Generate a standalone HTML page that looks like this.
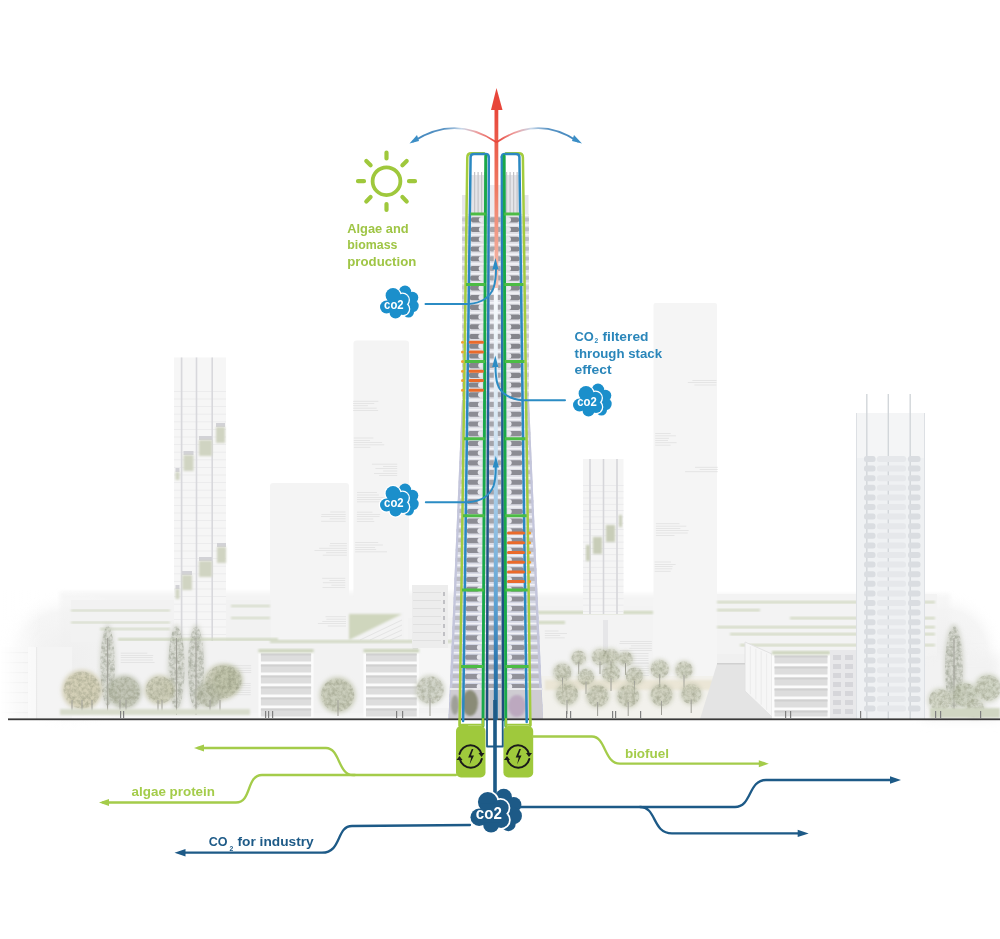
<!DOCTYPE html>
<html><head><meta charset="utf-8">
<style>
html,body{margin:0;padding:0;background:#fff;}
body{width:1000px;height:939px;overflow:hidden;position:relative;font-family:"Liberation Sans",sans-serif;}
svg{position:absolute;left:0;top:0;display:block;filter:blur(0.4px);}
</style></head>
<body>
<svg width="1000" height="939" viewBox="0 0 1000 939" font-family="Liberation Sans, sans-serif">
<defs>
  <filter id="bl1" x="-20%" y="-20%" width="140%" height="140%"><feGaussianBlur stdDeviation="1"/></filter>
  <filter id="bl2" x="-20%" y="-20%" width="140%" height="140%"><feGaussianBlur stdDeviation="2"/></filter>
  <filter id="fol" x="-30%" y="-30%" width="160%" height="160%">
    <feTurbulence type="fractalNoise" baseFrequency="0.28" numOctaves="3" seed="4" result="n"/>
    <feColorMatrix in="n" type="matrix" values="0 0 0 0 0  0 0 0 0 0  0 0 0 0 0  0 0 0 2.2 -0.75" result="na"/>
    <feComposite in="SourceGraphic" in2="na" operator="in" result="t"/>
    <feGaussianBlur in="t" stdDeviation="0.4"/>
  </filter>
  <filter id="bl6" x="-50%" y="-50%" width="200%" height="200%"><feGaussianBlur stdDeviation="6"/></filter>
  <pattern id="floorsL" width="10" height="9.7" patternUnits="userSpaceOnUse">
    <rect width="10" height="9.7" fill="#efeff1"/>
    <rect y="0" width="10" height="1.2" fill="#dcdce0"/>
  </pattern>
  <pattern id="twr" x="0" y="214" width="20" height="9.7" patternUnits="userSpaceOnUse">
    <rect width="20" height="9.7" fill="#d6d6dc"/>
    <rect x="2" y="2.5" width="14" height="5" rx="2" fill="#8a8a90"/>
    <rect x="0" y="0" width="20" height="1.5" fill="#eeeef2"/>
  </pattern>
  <linearGradient id="redg" x1="0" y1="0" x2="0" y2="1">
    <stop offset="0" stop-color="#e8463a"/>
    <stop offset="0.45" stop-color="#ee7a62"/>
    <stop offset="1" stop-color="#f6c4b6"/>
  </linearGradient>
  <linearGradient id="inblue" x1="0" y1="153" x2="0" y2="720" gradientUnits="userSpaceOnUse">
    <stop offset="0" stop-color="#2a88c2"/>
    <stop offset="0.3" stop-color="#2a78b0"/>
    <stop offset="0.5" stop-color="#225a8c"/>
    <stop offset="1" stop-color="#1c4c7a"/>
  </linearGradient>
  <linearGradient id="ctrblue" x1="0" y1="260" x2="0" y2="720" gradientUnits="userSpaceOnUse">
    <stop offset="0" stop-color="#ffffff"/>
    <stop offset="0.35" stop-color="#d8e8f4"/>
    <stop offset="0.55" stop-color="#9cc6e6"/>
    <stop offset="0.75" stop-color="#5aa0d2"/>
    <stop offset="0.87" stop-color="#2e78b0"/>
    <stop offset="1" stop-color="#1e6a9a"/>
  </linearGradient>
  <linearGradient id="curvL" x1="496" y1="0" x2="410" y2="0" gradientUnits="userSpaceOnUse">
    <stop offset="0" stop-color="#e8463a"/><stop offset="0.22" stop-color="#eea0a0"/><stop offset="0.4" stop-color="#c8d8ea"/><stop offset="0.6" stop-color="#5a94c4"/><stop offset="1" stop-color="#3b84bd"/>
  </linearGradient>
  <linearGradient id="curvR" x1="497" y1="0" x2="582" y2="0" gradientUnits="userSpaceOnUse">
    <stop offset="0" stop-color="#e8463a"/><stop offset="0.22" stop-color="#eea0a0"/><stop offset="0.4" stop-color="#c8d8ea"/><stop offset="0.6" stop-color="#5a94c4"/><stop offset="1" stop-color="#3b84bd"/>
  </linearGradient>
  <g id="cloud">
    <!-- back cloud -->
    <g>
      <circle cx="25.5" cy="6.8" r="6.2"/>
      <circle cx="33" cy="12.5" r="5.8"/>
      <circle cx="33" cy="21" r="6.2"/>
      <circle cx="29" cy="27" r="5.5"/>
      <circle cx="25" cy="17" r="7"/>
    </g>
    <!-- front cloud with white outline -->
    <g stroke="#fff" stroke-width="2.6">
      <circle cx="13.5" cy="10.5" r="7.4"/>
      <circle cx="23" cy="15" r="6.2"/>
      <circle cx="23.5" cy="24" r="6"/>
      <circle cx="16" cy="27.5" r="6"/>
      <circle cx="7" cy="22" r="6.5"/>
    </g>
    <g>
      <circle cx="13.5" cy="10.5" r="7.4"/>
      <circle cx="23" cy="15" r="6.2"/>
      <circle cx="23.5" cy="24" r="6"/>
      <circle cx="16" cy="27.5" r="6"/>
      <circle cx="7" cy="22" r="6.5"/>
      <rect x="8" y="12" width="15" height="14"/>
    </g>
  </g>
</defs>

<!-- ============ BACKGROUND BUILDINGS ============ -->
<g id="bg">
<radialGradient id="hazeL" cx="0.5" cy="0.5" r="0.5"><stop offset="0" stop-color="#efefef"/><stop offset="0.7" stop-color="#f3f3f3" stop-opacity="0.8"/><stop offset="1" stop-color="#fff" stop-opacity="0"/></radialGradient>
<linearGradient id="fadeR" x1="0" x2="1"><stop offset="0" stop-color="#fff" stop-opacity="0"/><stop offset="1" stop-color="#fff" stop-opacity="1"/></linearGradient>
<linearGradient id="fadeL" x1="0" x2="1"><stop offset="0" stop-color="#fff" stop-opacity="1"/><stop offset="1" stop-color="#fff" stop-opacity="0"/></linearGradient>
<rect x="60" y="592" width="400" height="127" fill="#f4f4f4" filter="url(#bl2)"/>
<ellipse cx="70" cy="660" rx="80" ry="70" fill="url(#hazeL)"/>
<rect x="530" y="594" width="420" height="125" fill="#f4f4f4" filter="url(#bl2)"/>
<ellipse cx="945" cy="655" rx="60" ry="65" fill="url(#hazeL)"/>
<rect x="653.5" y="303" width="63.5" height="375" rx="2" fill="#f5f5f5"/>
<rect x="692.4" y="380.1" width="24.1" height="0.6" fill="#dadada"/>
<rect x="687.8" y="382.4" width="28.6" height="0.6" fill="#dadada"/>
<rect x="694.4" y="384.7" width="22.0" height="0.6" fill="#dadada"/>
<rect x="655.2" y="433.3" width="15.5" height="0.6" fill="#dadada"/>
<rect x="655.2" y="435.6" width="20.7" height="0.6" fill="#dadada"/>
<rect x="655.2" y="437.9" width="13.7" height="0.6" fill="#dadada"/>
<rect x="655.2" y="440.2" width="12.8" height="0.6" fill="#dadada"/>
<rect x="655.2" y="442.5" width="21.4" height="0.6" fill="#dadada"/>
<rect x="655.2" y="444.8" width="15.4" height="0.6" fill="#dadada"/>
<rect x="695.0" y="466.9" width="22.8" height="0.6" fill="#dadada"/>
<rect x="699.7" y="469.2" width="18.1" height="0.6" fill="#dadada"/>
<rect x="685.1" y="471.5" width="32.7" height="0.6" fill="#dadada"/>
<rect x="655.9" y="523.5" width="23.6" height="0.6" fill="#dadada"/>
<rect x="655.9" y="525.8" width="30.4" height="0.6" fill="#dadada"/>
<rect x="655.9" y="528.1" width="24.4" height="0.6" fill="#dadada"/>
<rect x="655.9" y="530.4" width="32.7" height="0.6" fill="#dadada"/>
<rect x="655.9" y="532.7" width="31.8" height="0.6" fill="#dadada"/>
<rect x="655.9" y="535.0" width="18.6" height="0.6" fill="#dadada"/>
<rect x="654.7" y="561.7" width="16.2" height="0.6" fill="#dadada"/>
<rect x="654.7" y="564.0" width="20.9" height="0.6" fill="#dadada"/>
<rect x="654.7" y="566.3" width="17.9" height="0.6" fill="#dadada"/>
<rect x="654.7" y="568.6" width="17.5" height="0.6" fill="#dadada"/>
<rect x="654.7" y="570.9" width="16.0" height="0.6" fill="#dadada"/>
<rect x="353.5" y="340.5" width="55.5" height="300" rx="3" fill="#f4f4f4"/>
<rect x="353.1" y="400.9" width="25.3" height="0.6" fill="#dadada"/>
<rect x="353.1" y="403.2" width="21.2" height="0.6" fill="#dadada"/>
<rect x="353.1" y="405.5" width="14.8" height="0.6" fill="#dadada"/>
<rect x="353.1" y="407.8" width="23.6" height="0.6" fill="#dadada"/>
<rect x="353.1" y="410.1" width="25.0" height="0.6" fill="#dadada"/>
<rect x="353.8" y="437.7" width="19.6" height="0.6" fill="#dadada"/>
<rect x="353.8" y="440.0" width="16.2" height="0.6" fill="#dadada"/>
<rect x="353.8" y="442.3" width="28.3" height="0.6" fill="#dadada"/>
<rect x="353.8" y="444.6" width="30.4" height="0.6" fill="#dadada"/>
<rect x="353.8" y="446.9" width="16.6" height="0.6" fill="#dadada"/>
<rect x="371.9" y="463.8" width="25.3" height="0.6" fill="#dadada"/>
<rect x="383.1" y="466.1" width="14.1" height="0.6" fill="#dadada"/>
<rect x="375.4" y="468.4" width="21.8" height="0.6" fill="#dadada"/>
<rect x="383.1" y="470.7" width="14.1" height="0.6" fill="#dadada"/>
<rect x="374.0" y="473.0" width="23.2" height="0.6" fill="#dadada"/>
<rect x="379.2" y="475.3" width="18.0" height="0.6" fill="#dadada"/>
<rect x="357.0" y="492.4" width="19.9" height="0.6" fill="#dadada"/>
<rect x="357.0" y="494.7" width="21.9" height="0.6" fill="#dadada"/>
<rect x="357.0" y="497.0" width="30.4" height="0.6" fill="#dadada"/>
<rect x="357.0" y="499.3" width="38.6" height="0.6" fill="#dadada"/>
<rect x="357.0" y="501.6" width="39.0" height="0.6" fill="#dadada"/>
<rect x="356.9" y="511.8" width="15.6" height="0.6" fill="#dadada"/>
<rect x="356.9" y="514.1" width="23.3" height="0.6" fill="#dadada"/>
<rect x="356.9" y="516.4" width="22.6" height="0.6" fill="#dadada"/>
<rect x="356.9" y="518.7" width="16.4" height="0.6" fill="#dadada"/>
<rect x="356.9" y="521.0" width="17.4" height="0.6" fill="#dadada"/>
<rect x="355.2" y="542.4" width="23.0" height="0.6" fill="#dadada"/>
<rect x="355.2" y="544.7" width="27.7" height="0.6" fill="#dadada"/>
<rect x="355.2" y="547.0" width="19.9" height="0.6" fill="#dadada"/>
<rect x="355.2" y="549.3" width="20.9" height="0.6" fill="#dadada"/>
<rect x="355.2" y="551.6" width="31.8" height="0.6" fill="#dadada"/>
<rect x="270" y="483" width="79" height="160" rx="3" fill="#f4f4f4"/>
<rect x="330.3" y="511.7" width="15.3" height="0.6" fill="#dadada"/>
<rect x="321.4" y="514.0" width="24.3" height="0.6" fill="#dadada"/>
<rect x="321.1" y="516.3" width="24.5" height="0.6" fill="#dadada"/>
<rect x="329.7" y="518.6" width="15.9" height="0.6" fill="#dadada"/>
<rect x="321.2" y="520.9" width="24.5" height="0.6" fill="#dadada"/>
<rect x="330.0" y="543.3" width="16.8" height="0.6" fill="#dadada"/>
<rect x="329.4" y="545.6" width="17.5" height="0.6" fill="#dadada"/>
<rect x="319.2" y="547.9" width="27.6" height="0.6" fill="#dadada"/>
<rect x="314.5" y="550.2" width="32.3" height="0.6" fill="#dadada"/>
<rect x="326.2" y="552.5" width="20.6" height="0.6" fill="#dadada"/>
<rect x="322.8" y="554.8" width="24.0" height="0.6" fill="#dadada"/>
<rect x="322.2" y="577.9" width="23.1" height="0.6" fill="#dadada"/>
<rect x="329.4" y="580.2" width="15.8" height="0.6" fill="#dadada"/>
<rect x="322.9" y="582.5" width="22.4" height="0.6" fill="#dadada"/>
<rect x="331.4" y="584.8" width="13.8" height="0.6" fill="#dadada"/>
<rect x="322.6" y="587.1" width="22.7" height="0.6" fill="#dadada"/>
<rect x="325.5" y="616.5" width="20.5" height="0.6" fill="#dadada"/>
<rect x="326.4" y="618.8" width="19.6" height="0.6" fill="#dadada"/>
<rect x="322.3" y="621.1" width="23.7" height="0.6" fill="#dadada"/>
<rect x="317.9" y="623.4" width="28.1" height="0.6" fill="#dadada"/>
<rect x="327.8" y="625.7" width="18.2" height="0.6" fill="#dadada"/>
<rect x="71" y="600" width="200" height="42" fill="#f2f2f2"/>
<rect x="71" y="609.5" width="99" height="2" fill="#d2d9c4" filter="url(#bl1)"/>
<rect x="71" y="621.5" width="99" height="2" fill="#d2d9c4" filter="url(#bl1)"/>
<rect x="100" y="628" width="70" height="2" fill="#d2d9c4" filter="url(#bl1)"/>
<rect x="231" y="605" width="39" height="2" fill="#d2d9c4" filter="url(#bl1)"/>
<rect x="231" y="617" width="39" height="2" fill="#d2d9c4" filter="url(#bl1)"/>
<rect x="537" y="606" width="116" height="74" fill="#f3f3f3"/>
<rect x="537" y="611" width="116" height="3" fill="#d0d8c0" filter="url(#bl1)"/>
<rect x="537" y="621" width="28" height="3" fill="#d0d8c0" filter="url(#bl1)"/>
<rect x="544.8" y="630.7" width="13.7" height="0.6" fill="#dadada"/>
<rect x="544.8" y="633.0" width="22.1" height="0.6" fill="#dadada"/>
<rect x="544.8" y="635.3" width="15.4" height="0.6" fill="#dadada"/>
<rect x="544.8" y="637.6" width="19.9" height="0.6" fill="#dadada"/>
<rect x="619.9" y="641.0" width="31.9" height="0.6" fill="#dadada"/>
<rect x="619.4" y="643.3" width="32.5" height="0.6" fill="#dadada"/>
<rect x="630.9" y="645.6" width="20.9" height="0.6" fill="#dadada"/>
<rect x="629.3" y="647.9" width="22.6" height="0.6" fill="#dadada"/>
<rect x="619.9" y="650.2" width="31.9" height="0.6" fill="#dadada"/>
<rect x="621.4" y="653.4" width="27.1" height="0.6" fill="#dadada"/>
<rect x="615.5" y="655.7" width="33.1" height="0.6" fill="#dadada"/>
<rect x="622.3" y="658.0" width="26.2" height="0.6" fill="#dadada"/>
<rect x="619.3" y="660.3" width="29.2" height="0.6" fill="#dadada"/>
<rect x="625.5" y="662.6" width="23.1" height="0.6" fill="#dadada"/>
<rect x="630.5" y="663.5" width="18.2" height="0.6" fill="#dadada"/>
<rect x="631.1" y="665.8" width="17.7" height="0.6" fill="#dadada"/>
<rect x="630.1" y="668.1" width="18.7" height="0.6" fill="#dadada"/>
<rect x="635.3" y="670.4" width="13.5" height="0.6" fill="#dadada"/>
<rect x="630.5" y="672.7" width="18.3" height="0.6" fill="#dadada"/>
<rect x="630.7" y="675.0" width="18.1" height="0.6" fill="#dadada"/>
<rect x="603" y="620" width="5" height="55" fill="#e6e6e8"/>
<rect x="717" y="594" width="220" height="62" fill="#f3f3f3"/>
<rect x="717" y="601" width="218" height="2.3" fill="#d0d8c0" filter="url(#bl1)"/>
<rect x="717" y="609" width="43" height="2.3" fill="#d0d8c0" filter="url(#bl1)"/>
<rect x="790" y="617" width="145" height="2.3" fill="#d0d8c0" filter="url(#bl1)"/>
<rect x="717" y="626" width="218" height="2.3" fill="#d0d8c0" filter="url(#bl1)"/>
<rect x="730" y="633" width="205" height="2.3" fill="#d0d8c0" filter="url(#bl1)"/>
<rect x="740" y="644" width="195" height="2.3" fill="#d0d8c0" filter="url(#bl1)"/>
<rect x="174" y="357.5" width="52" height="285" fill="#f6f6f6"/>
<rect x="174" y="391.0" width="52" height="0.8" fill="#eaeaec"/>
<rect x="174" y="398.6" width="52" height="0.8" fill="#eaeaec"/>
<rect x="174" y="406.2" width="52" height="0.8" fill="#eaeaec"/>
<rect x="174" y="413.8" width="52" height="0.8" fill="#eaeaec"/>
<rect x="174" y="421.4" width="52" height="0.8" fill="#eaeaec"/>
<rect x="174" y="429.0" width="52" height="0.8" fill="#eaeaec"/>
<rect x="174" y="436.6" width="52" height="0.8" fill="#eaeaec"/>
<rect x="174" y="444.2" width="52" height="0.8" fill="#eaeaec"/>
<rect x="174" y="451.8" width="52" height="0.8" fill="#eaeaec"/>
<rect x="174" y="459.4" width="52" height="0.8" fill="#eaeaec"/>
<rect x="174" y="467.0" width="52" height="0.8" fill="#eaeaec"/>
<rect x="174" y="474.6" width="52" height="0.8" fill="#eaeaec"/>
<rect x="174" y="482.2" width="52" height="0.8" fill="#eaeaec"/>
<rect x="174" y="489.8" width="52" height="0.8" fill="#eaeaec"/>
<rect x="174" y="497.4" width="52" height="0.8" fill="#eaeaec"/>
<rect x="174" y="505.0" width="52" height="0.8" fill="#eaeaec"/>
<rect x="174" y="512.6" width="52" height="0.8" fill="#eaeaec"/>
<rect x="174" y="520.2" width="52" height="0.8" fill="#eaeaec"/>
<rect x="174" y="527.8" width="52" height="0.8" fill="#eaeaec"/>
<rect x="174" y="535.4" width="52" height="0.8" fill="#eaeaec"/>
<rect x="174" y="543.0" width="52" height="0.8" fill="#eaeaec"/>
<rect x="174" y="550.6" width="52" height="0.8" fill="#eaeaec"/>
<rect x="174" y="558.2" width="52" height="0.8" fill="#eaeaec"/>
<rect x="174" y="565.8" width="52" height="0.8" fill="#eaeaec"/>
<rect x="174" y="573.4" width="52" height="0.8" fill="#eaeaec"/>
<rect x="174" y="581.0" width="52" height="0.8" fill="#eaeaec"/>
<rect x="174" y="588.6" width="52" height="0.8" fill="#eaeaec"/>
<rect x="174" y="596.2" width="52" height="0.8" fill="#eaeaec"/>
<rect x="174" y="603.8" width="52" height="0.8" fill="#eaeaec"/>
<rect x="174" y="611.4" width="52" height="0.8" fill="#eaeaec"/>
<rect x="174" y="619.0" width="52" height="0.8" fill="#eaeaec"/>
<rect x="174" y="626.6" width="52" height="0.8" fill="#eaeaec"/>
<rect x="174" y="634.2" width="52" height="0.8" fill="#eaeaec"/>
<rect x="180.79999999999998" y="357.5" width="1.6" height="285" fill="#d8d8dc"/>
<rect x="195.7" y="357.5" width="1.6" height="285" fill="#d8d8dc"/>
<rect x="211.39999999999998" y="357.5" width="1.6" height="285" fill="#d8d8dc"/>
<rect x="183.5" y="451" width="10" height="4" fill="#d2d2d6"/>
<rect x="183.5" y="455" width="10" height="16" fill="#d0d4c2" filter="url(#bl1)"/>
<rect x="199" y="436" width="13" height="4" fill="#d2d2d6"/>
<rect x="199" y="440" width="13" height="16" fill="#d0d4c2" filter="url(#bl1)"/>
<rect x="216" y="423" width="9" height="4" fill="#d2d2d6"/>
<rect x="216" y="427" width="9" height="16" fill="#d0d4c2" filter="url(#bl1)"/>
<rect x="182" y="571" width="10" height="4" fill="#d2d2d6"/>
<rect x="182" y="575" width="10" height="15" fill="#d0d4c2" filter="url(#bl1)"/>
<rect x="199" y="557" width="13" height="4" fill="#d2d2d6"/>
<rect x="199" y="561" width="13" height="16" fill="#d0d4c2" filter="url(#bl1)"/>
<rect x="217" y="543" width="9" height="4" fill="#d2d2d6"/>
<rect x="217" y="547" width="9" height="16" fill="#d0d4c2" filter="url(#bl1)"/>
<rect x="175.5" y="468" width="4" height="4" fill="#d2d2d6"/>
<rect x="175.5" y="472" width="4" height="8" fill="#d0d4c2" filter="url(#bl1)"/>
<rect x="175.5" y="585" width="4" height="4" fill="#d2d2d6"/>
<rect x="175.5" y="589" width="4" height="10" fill="#d0d4c2" filter="url(#bl1)"/>
<rect x="583" y="459" width="40.5" height="155" fill="#f5f5f5"/>
<rect x="583" y="485.0" width="40.5" height="0.8" fill="#e8e8ea"/>
<rect x="583" y="491.3" width="40.5" height="0.8" fill="#e8e8ea"/>
<rect x="583" y="497.6" width="40.5" height="0.8" fill="#e8e8ea"/>
<rect x="583" y="503.9" width="40.5" height="0.8" fill="#e8e8ea"/>
<rect x="583" y="510.2" width="40.5" height="0.8" fill="#e8e8ea"/>
<rect x="583" y="516.5" width="40.5" height="0.8" fill="#e8e8ea"/>
<rect x="583" y="522.8" width="40.5" height="0.8" fill="#e8e8ea"/>
<rect x="583" y="529.1" width="40.5" height="0.8" fill="#e8e8ea"/>
<rect x="583" y="535.4" width="40.5" height="0.8" fill="#e8e8ea"/>
<rect x="583" y="541.7" width="40.5" height="0.8" fill="#e8e8ea"/>
<rect x="583" y="548.0" width="40.5" height="0.8" fill="#e8e8ea"/>
<rect x="583" y="554.3" width="40.5" height="0.8" fill="#e8e8ea"/>
<rect x="583" y="560.6" width="40.5" height="0.8" fill="#e8e8ea"/>
<rect x="583" y="566.9" width="40.5" height="0.8" fill="#e8e8ea"/>
<rect x="583" y="573.2" width="40.5" height="0.8" fill="#e8e8ea"/>
<rect x="583" y="579.5" width="40.5" height="0.8" fill="#e8e8ea"/>
<rect x="583" y="585.8" width="40.5" height="0.8" fill="#e8e8ea"/>
<rect x="583" y="592.1" width="40.5" height="0.8" fill="#e8e8ea"/>
<rect x="583" y="598.4" width="40.5" height="0.8" fill="#e8e8ea"/>
<rect x="583" y="604.7" width="40.5" height="0.8" fill="#e8e8ea"/>
<rect x="583" y="611.0" width="40.5" height="0.8" fill="#e8e8ea"/>
<rect x="589.2" y="459" width="1.6" height="155" fill="#d6d6da"/>
<rect x="602.7" y="459" width="1.6" height="155" fill="#d6d6da"/>
<rect x="616.2" y="459" width="1.6" height="155" fill="#d6d6da"/>
<rect x="586" y="545" width="4" height="16" fill="#c8cdb8" filter="url(#bl1)"/>
<rect x="593" y="537" width="9" height="17" fill="#c8cdb8" filter="url(#bl1)"/>
<rect x="606" y="525" width="9" height="17" fill="#c8cdb8" filter="url(#bl1)"/>
<rect x="619" y="515" width="3" height="12" fill="#c8cdb8" filter="url(#bl1)"/>
<rect x="118" y="638" width="160" height="3" fill="#d2d9c4" filter="url(#bl1)"/>
<rect x="100" y="641" width="360" height="72" fill="#f2f2f2"/>
<rect x="120.7" y="652.8" width="26.6" height="0.6" fill="#dadada"/>
<rect x="120.7" y="655.1" width="32.5" height="0.6" fill="#dadada"/>
<rect x="120.7" y="657.4" width="32.0" height="0.6" fill="#dadada"/>
<rect x="120.7" y="659.7" width="32.0" height="0.6" fill="#dadada"/>
<rect x="120.7" y="662.0" width="33.9" height="0.6" fill="#dadada"/>
<rect x="229.0" y="665.5" width="22.2" height="0.6" fill="#dadada"/>
<rect x="229.0" y="667.8" width="22.2" height="0.6" fill="#dadada"/>
<rect x="232.8" y="670.1" width="18.4" height="0.6" fill="#dadada"/>
<rect x="239.4" y="672.4" width="11.8" height="0.6" fill="#dadada"/>
<rect x="239.2" y="683.0" width="11.5" height="0.6" fill="#dadada"/>
<rect x="229.8" y="685.3" width="20.8" height="0.6" fill="#dadada"/>
<rect x="238.5" y="687.6" width="12.1" height="0.6" fill="#dadada"/>
<rect x="238.4" y="689.9" width="12.3" height="0.6" fill="#dadada"/>
<rect x="229.2" y="692.2" width="21.5" height="0.6" fill="#dadada"/>
<rect x="233.9" y="694.5" width="16.8" height="0.6" fill="#dadada"/>
<rect x="0" y="647" width="72" height="72" fill="#f4f4f4"/>
<rect x="0" y="652" width="28" height="1.2" fill="#e8e8e8"/>
<rect x="0" y="662" width="28" height="1.2" fill="#e8e8e8"/>
<rect x="0" y="672" width="28" height="1.2" fill="#e8e8e8"/>
<rect x="0" y="682" width="28" height="1.2" fill="#e8e8e8"/>
<rect x="0" y="692" width="28" height="1.2" fill="#e8e8e8"/>
<rect x="0" y="702" width="28" height="1.2" fill="#e8e8e8"/>
<rect x="0" y="712" width="28" height="1.2" fill="#e8e8e8"/>
<rect x="28" y="647" width="8" height="72" fill="#f8f8f8"/>
<rect x="36" y="647" width="1.2" height="72" fill="#e8e8e8"/>
<rect x="0" y="590" width="40" height="130" fill="url(#fadeL)"/>
<rect x="408" y="618" width="50" height="30" fill="#f2f2f2"/>
<rect x="349" y="612" width="55" height="28" fill="#f3f3f3"/>
<polygon points="349,614 402,614 349,640" fill="#cfd6bd" filter="url(#bl1)"/>
<line x1="360" y1="640" x2="402" y2="620" stroke="#e4e4e4" stroke-width="1"/>
<line x1="370" y1="640" x2="402" y2="625" stroke="#e4e4e4" stroke-width="1"/>
<line x1="380" y1="640" x2="402" y2="630" stroke="#e4e4e4" stroke-width="1"/>
<line x1="390" y1="640" x2="402" y2="635" stroke="#e4e4e4" stroke-width="1"/>
<rect x="270" y="640" width="190" height="3" fill="#d2d9c4" filter="url(#bl1)"/>
<rect x="412" y="585" width="36" height="90" fill="#ededed"/>
<rect x="413" y="592" width="28" height="0.8" fill="#dcdcdc"/>
<rect x="443" y="592" width="2" height="4" fill="#c0c0c4"/>
<rect x="413" y="600" width="28" height="0.8" fill="#dcdcdc"/>
<rect x="443" y="600" width="2" height="4" fill="#c0c0c4"/>
<rect x="413" y="608" width="28" height="0.8" fill="#dcdcdc"/>
<rect x="443" y="608" width="2" height="4" fill="#c0c0c4"/>
<rect x="413" y="616" width="28" height="0.8" fill="#dcdcdc"/>
<rect x="443" y="616" width="2" height="4" fill="#c0c0c4"/>
<rect x="413" y="624" width="28" height="0.8" fill="#dcdcdc"/>
<rect x="443" y="624" width="2" height="4" fill="#c0c0c4"/>
<rect x="413" y="632" width="28" height="0.8" fill="#dcdcdc"/>
<rect x="443" y="632" width="2" height="4" fill="#c0c0c4"/>
<rect x="413" y="640" width="28" height="0.8" fill="#dcdcdc"/>
<rect x="443" y="640" width="2" height="4" fill="#c0c0c4"/>
<rect x="413" y="648" width="28" height="0.8" fill="#dcdcdc"/>
<rect x="443" y="648" width="2" height="4" fill="#c0c0c4"/>
<rect x="413" y="656" width="28" height="0.8" fill="#dcdcdc"/>
<rect x="443" y="656" width="2" height="4" fill="#c0c0c4"/>
<rect x="413" y="664" width="28" height="0.8" fill="#dcdcdc"/>
<rect x="443" y="664" width="2" height="4" fill="#c0c0c4"/>
<rect x="418" y="648" width="32" height="60" fill="#f6f6f6"/>
<rect x="258.4" y="652" width="55.200000000000045" height="67" fill="#fbfbfb"/>
<rect x="260.9" y="653.5" width="50.200000000000045" height="8.0" fill="#dddddd"/>
<rect x="260.9" y="653.5" width="50.200000000000045" height="2" fill="#d0d0d0"/>
<rect x="260.9" y="664.5" width="50.200000000000045" height="8.0" fill="#dddddd"/>
<rect x="260.9" y="664.5" width="50.200000000000045" height="2" fill="#d0d0d0"/>
<rect x="260.9" y="675.5" width="50.200000000000045" height="8.0" fill="#dddddd"/>
<rect x="260.9" y="675.5" width="50.200000000000045" height="2" fill="#d0d0d0"/>
<rect x="260.9" y="686.5" width="50.200000000000045" height="8.0" fill="#dddddd"/>
<rect x="260.9" y="686.5" width="50.200000000000045" height="2" fill="#d0d0d0"/>
<rect x="260.9" y="697.5" width="50.200000000000045" height="8.0" fill="#dddddd"/>
<rect x="260.9" y="697.5" width="50.200000000000045" height="2" fill="#d0d0d0"/>
<rect x="260.9" y="708.5" width="50.200000000000045" height="8.0" fill="#dddddd"/>
<rect x="260.9" y="708.5" width="50.200000000000045" height="2" fill="#d0d0d0"/>
<rect x="258.4" y="649" width="55.200000000000045" height="3.5" fill="#ccd4bc" filter="url(#bl1)"/>
<rect x="363.5" y="652" width="55.69999999999999" height="67" fill="#fbfbfb"/>
<rect x="366.0" y="653.5" width="50.69999999999999" height="8.0" fill="#dddddd"/>
<rect x="366.0" y="653.5" width="50.69999999999999" height="2" fill="#d0d0d0"/>
<rect x="366.0" y="664.5" width="50.69999999999999" height="8.0" fill="#dddddd"/>
<rect x="366.0" y="664.5" width="50.69999999999999" height="2" fill="#d0d0d0"/>
<rect x="366.0" y="675.5" width="50.69999999999999" height="8.0" fill="#dddddd"/>
<rect x="366.0" y="675.5" width="50.69999999999999" height="2" fill="#d0d0d0"/>
<rect x="366.0" y="686.5" width="50.69999999999999" height="8.0" fill="#dddddd"/>
<rect x="366.0" y="686.5" width="50.69999999999999" height="2" fill="#d0d0d0"/>
<rect x="366.0" y="697.5" width="50.69999999999999" height="8.0" fill="#dddddd"/>
<rect x="366.0" y="697.5" width="50.69999999999999" height="2" fill="#d0d0d0"/>
<rect x="366.0" y="708.5" width="50.69999999999999" height="8.0" fill="#dddddd"/>
<rect x="366.0" y="708.5" width="50.69999999999999" height="2" fill="#d0d0d0"/>
<rect x="363.5" y="649" width="55.69999999999999" height="3.5" fill="#ccd4bc" filter="url(#bl1)"/>
<rect x="717" y="654" width="140" height="65" fill="#f0f0f0"/>
<rect x="924" y="655" width="76" height="64" fill="#f2f2f2" filter="url(#bl6)"/>
<rect x="538" y="676" width="180" height="43" fill="#f2f1ec"/>
<rect x="545" y="680" width="170" height="10" fill="#ebe6d6" filter="url(#bl1)"/>
<polygon points="717,664 745,664 790,719 700,719" fill="#e4e4e4"/>
<polygon points="745,642 772,654 772,717 745,691" fill="#f6f6f6" stroke="#e2e2e2" stroke-width="1"/>
<line x1="750.4" y1="646.4" x2="750.4" y2="694.2" stroke="#e8e8e8" stroke-width="0.8"/>
<line x1="755.8" y1="648.8" x2="755.8" y2="699.4" stroke="#e8e8e8" stroke-width="0.8"/>
<line x1="761.2" y1="651.2" x2="761.2" y2="704.6" stroke="#e8e8e8" stroke-width="0.8"/>
<line x1="766.6" y1="653.6" x2="766.6" y2="709.8" stroke="#e8e8e8" stroke-width="0.8"/>
<rect x="717" y="663" width="28" height="1.5" fill="#d0d0d0"/>
<rect x="772" y="654" width="58" height="65" fill="#fbfbfb"/>
<rect x="774.5" y="655.5" width="53" height="8.0" fill="#dddddd"/>
<rect x="774.5" y="655.5" width="53" height="2" fill="#d0d0d0"/>
<rect x="774.5" y="666.5" width="53" height="8.0" fill="#dddddd"/>
<rect x="774.5" y="666.5" width="53" height="2" fill="#d0d0d0"/>
<rect x="774.5" y="677.5" width="53" height="8.0" fill="#dddddd"/>
<rect x="774.5" y="677.5" width="53" height="2" fill="#d0d0d0"/>
<rect x="774.5" y="688.5" width="53" height="8.0" fill="#dddddd"/>
<rect x="774.5" y="688.5" width="53" height="2" fill="#d0d0d0"/>
<rect x="774.5" y="699.5" width="53" height="8.0" fill="#dddddd"/>
<rect x="774.5" y="699.5" width="53" height="2" fill="#d0d0d0"/>
<rect x="774.5" y="710.5" width="53" height="6.0" fill="#dddddd"/>
<rect x="774.5" y="710.5" width="53" height="2" fill="#d0d0d0"/>
<rect x="772" y="651" width="58" height="3.5" fill="#ccd4bc" filter="url(#bl1)"/>
<rect x="830" y="650" width="27" height="69" fill="#e8e8ea"/>
<rect x="833" y="655" width="8" height="5" fill="#d6d6da"/>
<rect x="845" y="655" width="8" height="5" fill="#d6d6da"/>
<rect x="833" y="664" width="8" height="5" fill="#d6d6da"/>
<rect x="845" y="664" width="8" height="5" fill="#d6d6da"/>
<rect x="833" y="673" width="8" height="5" fill="#d6d6da"/>
<rect x="845" y="673" width="8" height="5" fill="#d6d6da"/>
<rect x="833" y="682" width="8" height="5" fill="#d6d6da"/>
<rect x="845" y="682" width="8" height="5" fill="#d6d6da"/>
<rect x="833" y="691" width="8" height="5" fill="#d6d6da"/>
<rect x="845" y="691" width="8" height="5" fill="#d6d6da"/>
<rect x="833" y="700" width="8" height="5" fill="#d6d6da"/>
<rect x="845" y="700" width="8" height="5" fill="#d6d6da"/>
<rect x="833" y="709" width="8" height="5" fill="#d6d6da"/>
<rect x="845" y="709" width="8" height="5" fill="#d6d6da"/>
<rect x="856" y="413" width="69" height="306" fill="#eff1f3"/>
<rect x="856" y="413" width="69" height="45" fill="#f4f5f6"/>
<rect x="866.0999999999999" y="394" width="1.4" height="325" fill="#d2d6da"/>
<rect x="887.5999999999999" y="394" width="1.4" height="325" fill="#d2d6da"/>
<rect x="909.5" y="394" width="1.4" height="325" fill="#d2d6da"/>
<rect x="864" y="456.0" width="11.5" height="6" rx="2.5" fill="#dadde1"/>
<rect x="877" y="456.0" width="29" height="6" rx="2.5" fill="#e6e8eb"/>
<rect x="908" y="456.0" width="12.5" height="6" rx="2.5" fill="#dadde1"/>
<rect x="864" y="465.6" width="11.5" height="6" rx="2.5" fill="#dadde1"/>
<rect x="877" y="465.6" width="29" height="6" rx="2.5" fill="#e6e8eb"/>
<rect x="908" y="465.6" width="12.5" height="6" rx="2.5" fill="#dadde1"/>
<rect x="864" y="475.2" width="11.5" height="6" rx="2.5" fill="#dadde1"/>
<rect x="877" y="475.2" width="29" height="6" rx="2.5" fill="#e6e8eb"/>
<rect x="908" y="475.2" width="12.5" height="6" rx="2.5" fill="#dadde1"/>
<rect x="864" y="484.8" width="11.5" height="6" rx="2.5" fill="#dadde1"/>
<rect x="877" y="484.8" width="29" height="6" rx="2.5" fill="#e6e8eb"/>
<rect x="908" y="484.8" width="12.5" height="6" rx="2.5" fill="#dadde1"/>
<rect x="864" y="494.4" width="11.5" height="6" rx="2.5" fill="#dadde1"/>
<rect x="877" y="494.4" width="29" height="6" rx="2.5" fill="#e6e8eb"/>
<rect x="908" y="494.4" width="12.5" height="6" rx="2.5" fill="#dadde1"/>
<rect x="864" y="504.0" width="11.5" height="6" rx="2.5" fill="#dadde1"/>
<rect x="877" y="504.0" width="29" height="6" rx="2.5" fill="#e6e8eb"/>
<rect x="908" y="504.0" width="12.5" height="6" rx="2.5" fill="#dadde1"/>
<rect x="864" y="513.6" width="11.5" height="6" rx="2.5" fill="#dadde1"/>
<rect x="877" y="513.6" width="29" height="6" rx="2.5" fill="#e6e8eb"/>
<rect x="908" y="513.6" width="12.5" height="6" rx="2.5" fill="#dadde1"/>
<rect x="864" y="523.2" width="11.5" height="6" rx="2.5" fill="#dadde1"/>
<rect x="877" y="523.2" width="29" height="6" rx="2.5" fill="#e6e8eb"/>
<rect x="908" y="523.2" width="12.5" height="6" rx="2.5" fill="#dadde1"/>
<rect x="864" y="532.8" width="11.5" height="6" rx="2.5" fill="#dadde1"/>
<rect x="877" y="532.8" width="29" height="6" rx="2.5" fill="#e6e8eb"/>
<rect x="908" y="532.8" width="12.5" height="6" rx="2.5" fill="#dadde1"/>
<rect x="864" y="542.4" width="11.5" height="6" rx="2.5" fill="#dadde1"/>
<rect x="877" y="542.4" width="29" height="6" rx="2.5" fill="#e6e8eb"/>
<rect x="908" y="542.4" width="12.5" height="6" rx="2.5" fill="#dadde1"/>
<rect x="864" y="552.0" width="11.5" height="6" rx="2.5" fill="#dadde1"/>
<rect x="877" y="552.0" width="29" height="6" rx="2.5" fill="#e6e8eb"/>
<rect x="908" y="552.0" width="12.5" height="6" rx="2.5" fill="#dadde1"/>
<rect x="864" y="561.6" width="11.5" height="6" rx="2.5" fill="#dadde1"/>
<rect x="877" y="561.6" width="29" height="6" rx="2.5" fill="#e6e8eb"/>
<rect x="908" y="561.6" width="12.5" height="6" rx="2.5" fill="#dadde1"/>
<rect x="864" y="571.2" width="11.5" height="6" rx="2.5" fill="#dadde1"/>
<rect x="877" y="571.2" width="29" height="6" rx="2.5" fill="#e6e8eb"/>
<rect x="908" y="571.2" width="12.5" height="6" rx="2.5" fill="#dadde1"/>
<rect x="864" y="580.8" width="11.5" height="6" rx="2.5" fill="#dadde1"/>
<rect x="877" y="580.8" width="29" height="6" rx="2.5" fill="#e6e8eb"/>
<rect x="908" y="580.8" width="12.5" height="6" rx="2.5" fill="#dadde1"/>
<rect x="864" y="590.4" width="11.5" height="6" rx="2.5" fill="#dadde1"/>
<rect x="877" y="590.4" width="29" height="6" rx="2.5" fill="#e6e8eb"/>
<rect x="908" y="590.4" width="12.5" height="6" rx="2.5" fill="#dadde1"/>
<rect x="864" y="600.0" width="11.5" height="6" rx="2.5" fill="#dadde1"/>
<rect x="877" y="600.0" width="29" height="6" rx="2.5" fill="#e6e8eb"/>
<rect x="908" y="600.0" width="12.5" height="6" rx="2.5" fill="#dadde1"/>
<rect x="864" y="609.6" width="11.5" height="6" rx="2.5" fill="#dadde1"/>
<rect x="877" y="609.6" width="29" height="6" rx="2.5" fill="#e6e8eb"/>
<rect x="908" y="609.6" width="12.5" height="6" rx="2.5" fill="#dadde1"/>
<rect x="864" y="619.2" width="11.5" height="6" rx="2.5" fill="#dadde1"/>
<rect x="877" y="619.2" width="29" height="6" rx="2.5" fill="#e6e8eb"/>
<rect x="908" y="619.2" width="12.5" height="6" rx="2.5" fill="#dadde1"/>
<rect x="864" y="628.8" width="11.5" height="6" rx="2.5" fill="#dadde1"/>
<rect x="877" y="628.8" width="29" height="6" rx="2.5" fill="#e6e8eb"/>
<rect x="908" y="628.8" width="12.5" height="6" rx="2.5" fill="#dadde1"/>
<rect x="864" y="638.4" width="11.5" height="6" rx="2.5" fill="#dadde1"/>
<rect x="877" y="638.4" width="29" height="6" rx="2.5" fill="#e6e8eb"/>
<rect x="908" y="638.4" width="12.5" height="6" rx="2.5" fill="#dadde1"/>
<rect x="864" y="648.0" width="11.5" height="6" rx="2.5" fill="#dadde1"/>
<rect x="877" y="648.0" width="29" height="6" rx="2.5" fill="#e6e8eb"/>
<rect x="908" y="648.0" width="12.5" height="6" rx="2.5" fill="#dadde1"/>
<rect x="864" y="657.6" width="11.5" height="6" rx="2.5" fill="#dadde1"/>
<rect x="877" y="657.6" width="29" height="6" rx="2.5" fill="#e6e8eb"/>
<rect x="908" y="657.6" width="12.5" height="6" rx="2.5" fill="#dadde1"/>
<rect x="864" y="667.2" width="11.5" height="6" rx="2.5" fill="#dadde1"/>
<rect x="877" y="667.2" width="29" height="6" rx="2.5" fill="#e6e8eb"/>
<rect x="908" y="667.2" width="12.5" height="6" rx="2.5" fill="#dadde1"/>
<rect x="864" y="676.8" width="11.5" height="6" rx="2.5" fill="#dadde1"/>
<rect x="877" y="676.8" width="29" height="6" rx="2.5" fill="#e6e8eb"/>
<rect x="908" y="676.8" width="12.5" height="6" rx="2.5" fill="#dadde1"/>
<rect x="864" y="686.4" width="11.5" height="6" rx="2.5" fill="#dadde1"/>
<rect x="877" y="686.4" width="29" height="6" rx="2.5" fill="#e6e8eb"/>
<rect x="908" y="686.4" width="12.5" height="6" rx="2.5" fill="#dadde1"/>
<rect x="864" y="696.0" width="11.5" height="6" rx="2.5" fill="#dadde1"/>
<rect x="877" y="696.0" width="29" height="6" rx="2.5" fill="#e6e8eb"/>
<rect x="908" y="696.0" width="12.5" height="6" rx="2.5" fill="#dadde1"/>
<rect x="864" y="705.6" width="11.5" height="6" rx="2.5" fill="#dadde1"/>
<rect x="877" y="705.6" width="29" height="6" rx="2.5" fill="#e6e8eb"/>
<rect x="908" y="705.6" width="12.5" height="6" rx="2.5" fill="#dadde1"/>
<rect x="856" y="413" width="1" height="306" fill="#dde0e4"/>
<rect x="924" y="413" width="1" height="306" fill="#dde0e4"/>
<ellipse cx="107.6" cy="666.0" rx="8" ry="42.0" fill="#bcc0b0" opacity="0.5" filter="url(#bl2)"/>
<ellipse cx="107.6" cy="666.0" rx="7.2" ry="39.9" fill="#858b7a" opacity="0.5" filter="url(#fol)"/>
<rect x="107.1" y="638" width="1" height="74" fill="#a0a098"/>
<ellipse cx="176.5" cy="667.5" rx="9" ry="43.5" fill="#bcc0b0" opacity="0.5" filter="url(#bl2)"/>
<ellipse cx="176.5" cy="667.5" rx="8.1" ry="41.3" fill="#858b7a" opacity="0.5" filter="url(#fol)"/>
<rect x="176.0" y="638" width="1" height="77" fill="#a0a098"/>
<ellipse cx="196" cy="667.5" rx="9" ry="43.5" fill="#bcc0b0" opacity="0.5" filter="url(#bl2)"/>
<ellipse cx="196" cy="667.5" rx="8.1" ry="41.3" fill="#858b7a" opacity="0.5" filter="url(#fol)"/>
<rect x="195.5" y="638" width="1" height="77" fill="#a0a098"/>
<circle cx="82" cy="690" r="20" fill="#c8c2a0" opacity="0.72" filter="url(#bl2)"/>
<circle cx="82" cy="690" r="18.4" fill="#8a8e76" opacity="0.45" filter="url(#fol)"/>
<circle cx="124.5" cy="692" r="17" fill="#b0b5a0" opacity="0.72" filter="url(#bl2)"/>
<circle cx="124.5" cy="692" r="15.6" fill="#8a8e76" opacity="0.45" filter="url(#fol)"/>
<circle cx="159.6" cy="690" r="15" fill="#c0c0a2" opacity="0.72" filter="url(#bl2)"/>
<circle cx="159.6" cy="690" r="13.8" fill="#8a8e76" opacity="0.45" filter="url(#fol)"/>
<circle cx="222" cy="682" r="18" fill="#bec0a4" opacity="0.72" filter="url(#bl2)"/>
<circle cx="222" cy="682" r="16.6" fill="#8a8e76" opacity="0.45" filter="url(#fol)"/>
<circle cx="209" cy="695" r="13" fill="#b6baa4" opacity="0.72" filter="url(#bl2)"/>
<circle cx="209" cy="695" r="12.0" fill="#8a8e76" opacity="0.45" filter="url(#fol)"/>
<rect x="71.5" y="700" width="1" height="12" fill="#a0a098"/>
<rect x="81.5" y="700" width="1" height="12" fill="#a0a098"/>
<rect x="91.5" y="700" width="1" height="12" fill="#a0a098"/>
<rect x="119.5" y="700" width="1" height="12" fill="#a0a098"/>
<rect x="125.5" y="700" width="1" height="12" fill="#a0a098"/>
<rect x="157.5" y="700" width="1" height="12" fill="#a0a098"/>
<rect x="161.5" y="700" width="1" height="12" fill="#a0a098"/>
<rect x="209.5" y="700" width="1" height="12" fill="#a0a098"/>
<rect x="219.5" y="700" width="1" height="12" fill="#a0a098"/>
<rect x="60" y="709" width="190" height="6" fill="#d8dccc" filter="url(#bl1)"/>
<circle cx="337.6" cy="695" r="18" fill="#bcc0a6" opacity="0.72" filter="url(#bl2)"/>
<circle cx="337.6" cy="695" r="16.6" fill="#8a8e76" opacity="0.45" filter="url(#fol)"/>
<circle cx="430" cy="690" r="15" fill="#c4c8b8" opacity="0.72" filter="url(#bl2)"/>
<circle cx="430" cy="690" r="13.8" fill="#8a8e76" opacity="0.45" filter="url(#fol)"/>
<circle cx="228" cy="680" r="15" fill="#bcc0a6" opacity="0.72" filter="url(#bl2)"/>
<circle cx="228" cy="680" r="13.8" fill="#8a8e76" opacity="0.45" filter="url(#fol)"/>
<rect x="337.5" y="700" width="1" height="16" fill="#a0a098"/>
<rect x="429.5" y="698" width="1" height="18" fill="#a0a098"/>
<circle cx="578.7" cy="658" r="8" fill="#c3c6b0" opacity="0.72" filter="url(#bl2)"/>
<circle cx="578.7" cy="658" r="7.4" fill="#8a8e76" opacity="0.45" filter="url(#fol)"/>
<rect x="578.2" y="662.0" width="1" height="12.0" fill="#a0a098"/>
<circle cx="600" cy="657" r="9" fill="#c3c6b0" opacity="0.72" filter="url(#bl2)"/>
<circle cx="600" cy="657" r="8.3" fill="#8a8e76" opacity="0.45" filter="url(#fol)"/>
<rect x="599.5" y="661.5" width="1" height="12.5" fill="#a0a098"/>
<circle cx="611" cy="657" r="9" fill="#c3c6b0" opacity="0.72" filter="url(#bl2)"/>
<circle cx="611" cy="657" r="8.3" fill="#8a8e76" opacity="0.45" filter="url(#fol)"/>
<rect x="610.5" y="661.5" width="1" height="12.5" fill="#a0a098"/>
<circle cx="625.5" cy="659" r="8" fill="#c3c6b0" opacity="0.72" filter="url(#bl2)"/>
<circle cx="625.5" cy="659" r="7.4" fill="#8a8e76" opacity="0.45" filter="url(#fol)"/>
<rect x="625.0" y="663.0" width="1" height="12.0" fill="#a0a098"/>
<circle cx="562.5" cy="672.4" r="10" fill="#c3c6b0" opacity="0.72" filter="url(#bl2)"/>
<circle cx="562.5" cy="672.4" r="9.2" fill="#8a8e76" opacity="0.45" filter="url(#fol)"/>
<rect x="562.0" y="677.4" width="1" height="13.0" fill="#a0a098"/>
<circle cx="586" cy="677" r="9" fill="#c3c6b0" opacity="0.72" filter="url(#bl2)"/>
<circle cx="586" cy="677" r="8.3" fill="#8a8e76" opacity="0.45" filter="url(#fol)"/>
<rect x="585.5" y="681.5" width="1" height="12.5" fill="#a0a098"/>
<circle cx="611" cy="673" r="10" fill="#c3c6b0" opacity="0.72" filter="url(#bl2)"/>
<circle cx="611" cy="673" r="9.2" fill="#8a8e76" opacity="0.45" filter="url(#fol)"/>
<rect x="610.5" y="678.0" width="1" height="13.0" fill="#a0a098"/>
<circle cx="634.5" cy="676" r="9.5" fill="#c3c6b0" opacity="0.72" filter="url(#bl2)"/>
<circle cx="634.5" cy="676" r="8.7" fill="#8a8e76" opacity="0.45" filter="url(#fol)"/>
<rect x="634.0" y="680.75" width="1" height="12.75" fill="#a0a098"/>
<circle cx="659.7" cy="669" r="10" fill="#c3c6b0" opacity="0.72" filter="url(#bl2)"/>
<circle cx="659.7" cy="669" r="9.2" fill="#8a8e76" opacity="0.45" filter="url(#fol)"/>
<rect x="659.2" y="674.0" width="1" height="13.0" fill="#a0a098"/>
<circle cx="684" cy="670" r="9.5" fill="#c3c6b0" opacity="0.72" filter="url(#bl2)"/>
<circle cx="684" cy="670" r="8.7" fill="#8a8e76" opacity="0.45" filter="url(#fol)"/>
<rect x="683.5" y="674.75" width="1" height="12.75" fill="#a0a098"/>
<circle cx="567" cy="694" r="12" fill="#c3c6b0" opacity="0.72" filter="url(#bl2)"/>
<circle cx="567" cy="694" r="11.0" fill="#8a8e76" opacity="0.45" filter="url(#fol)"/>
<rect x="566.5" y="700.0" width="1" height="14.0" fill="#a0a098"/>
<circle cx="597.6" cy="696" r="12" fill="#c3c6b0" opacity="0.72" filter="url(#bl2)"/>
<circle cx="597.6" cy="696" r="11.0" fill="#8a8e76" opacity="0.45" filter="url(#fol)"/>
<rect x="597.1" y="702.0" width="1" height="14.0" fill="#a0a098"/>
<circle cx="628.2" cy="696" r="12" fill="#c3c6b0" opacity="0.72" filter="url(#bl2)"/>
<circle cx="628.2" cy="696" r="11.0" fill="#8a8e76" opacity="0.45" filter="url(#fol)"/>
<rect x="627.7" y="702.0" width="1" height="14.0" fill="#a0a098"/>
<circle cx="661.5" cy="695" r="12" fill="#c3c6b0" opacity="0.72" filter="url(#bl2)"/>
<circle cx="661.5" cy="695" r="11.0" fill="#8a8e76" opacity="0.45" filter="url(#fol)"/>
<rect x="661.0" y="701.0" width="1" height="14.0" fill="#a0a098"/>
<circle cx="691.2" cy="694" r="11" fill="#c3c6b0" opacity="0.72" filter="url(#bl2)"/>
<circle cx="691.2" cy="694" r="10.1" fill="#8a8e76" opacity="0.45" filter="url(#fol)"/>
<rect x="690.7" y="699.5" width="1" height="13.5" fill="#a0a098"/>
<ellipse cx="954" cy="668.0" rx="10" ry="44.0" fill="#b8bcaa" opacity="0.5" filter="url(#bl2)"/>
<ellipse cx="954" cy="668.0" rx="9.0" ry="41.8" fill="#858b7a" opacity="0.5" filter="url(#fol)"/>
<rect x="953.5" y="638" width="1" height="78" fill="#a0a098"/>
<circle cx="940" cy="700" r="12" fill="#c6cab6" opacity="0.72" filter="url(#bl2)"/>
<circle cx="940" cy="700" r="11.0" fill="#8a8e76" opacity="0.45" filter="url(#fol)"/>
<circle cx="965" cy="695" r="13" fill="#c0c6b0" opacity="0.72" filter="url(#bl2)"/>
<circle cx="965" cy="695" r="12.0" fill="#8a8e76" opacity="0.45" filter="url(#fol)"/>
<circle cx="988" cy="688" r="14" fill="#c2c8b2" opacity="0.72" filter="url(#bl2)"/>
<circle cx="988" cy="688" r="12.9" fill="#8a8e76" opacity="0.45" filter="url(#fol)"/>
<circle cx="975" cy="708" r="10" fill="#c8ccba" opacity="0.72" filter="url(#bl2)"/>
<circle cx="975" cy="708" r="9.2" fill="#8a8e76" opacity="0.45" filter="url(#fol)"/>
<rect x="930" y="708" width="70" height="10" fill="#d0d6c2" filter="url(#bl1)"/>
<rect x="120" y="711" width="1.2" height="7" fill="#808080"/>
<rect x="123" y="711" width="1.2" height="7" fill="#808080"/>
<rect x="265" y="711" width="1.2" height="7" fill="#808080"/>
<rect x="268" y="711" width="1.2" height="7" fill="#808080"/>
<rect x="272" y="711" width="1.2" height="7" fill="#808080"/>
<rect x="396" y="711" width="1.2" height="7" fill="#808080"/>
<rect x="402" y="711" width="1.2" height="7" fill="#808080"/>
<rect x="520" y="711" width="1.2" height="7" fill="#808080"/>
<rect x="566" y="711" width="1.2" height="7" fill="#808080"/>
<rect x="570" y="711" width="1.2" height="7" fill="#808080"/>
<rect x="612" y="711" width="1.2" height="7" fill="#808080"/>
<rect x="615" y="711" width="1.2" height="7" fill="#808080"/>
<rect x="640" y="711" width="1.2" height="7" fill="#808080"/>
<rect x="785" y="711" width="1.2" height="7" fill="#808080"/>
<rect x="790" y="711" width="1.2" height="7" fill="#808080"/>
<rect x="860" y="711" width="1.2" height="7" fill="#808080"/>
<rect x="935" y="711" width="1.2" height="7" fill="#808080"/>
<rect x="940" y="711" width="1.2" height="7" fill="#808080"/>
<rect x="980" y="711" width="1.2" height="7" fill="#808080"/>
</g>

<!-- ============ CENTRAL TOWER (building) ============ -->
<g id="tower">
<linearGradient id="twbody" x1="0" y1="214" x2="0" y2="719" gradientUnits="userSpaceOnUse"><stop offset="0" stop-color="#dedee4"/><stop offset="0.6" stop-color="#dcdde6"/><stop offset="1" stop-color="#ccd0e2"/></linearGradient>
<polygon points="462.0,214 529.0,214 529.0,400 543.0,719 448.5,719 462.0,400" fill="url(#twbody)"/>
<rect x="471" y="175" width="16" height="40" fill="#e4e4e8"/>
<rect x="503" y="175" width="16" height="40" fill="#e4e4e8"/>
<rect x="474" y="172" width="1.2" height="42" fill="#c4c4c8"/>
<rect x="477.5" y="172" width="1.2" height="42" fill="#c4c4c8"/>
<rect x="481" y="172" width="1.2" height="42" fill="#c4c4c8"/>
<rect x="484" y="172" width="1.2" height="42" fill="#c4c4c8"/>
<rect x="506" y="172" width="1.2" height="42" fill="#c4c4c8"/>
<rect x="509.5" y="172" width="1.2" height="42" fill="#c4c4c8"/>
<rect x="513" y="172" width="1.2" height="42" fill="#c4c4c8"/>
<rect x="516.5" y="172" width="1.2" height="42" fill="#c4c4c8"/>
<rect x="489.5" y="185" width="12" height="30" fill="#ececf0"/>
<rect x="462" y="195" width="5" height="20" fill="#e6e6ea"/>
<rect x="523.5" y="195" width="5" height="20" fill="#e6e6ea"/>
<rect x="462.0" y="214.5" width="67.0" height="1.6" fill="#f2f2f6"/>
<rect x="471.0" y="217.3" width="10.9" height="5.1" rx="1.8" fill="#85858c"/>
<rect x="478.9" y="217.3" width="4" height="5" rx="2" fill="#e8e8ee"/>
<rect x="490.1" y="217.3" width="10.3" height="5" rx="1" fill="#a4a4aa"/>
<rect x="507.9" y="217.3" width="11.1" height="5.1" rx="1.8" fill="#85858c"/>
<rect x="506.9" y="217.3" width="4" height="5" rx="2" fill="#e8e8ee"/>
<rect x="462.0" y="217.5" width="4.0" height="4" rx="1" fill="#cacad0"/>
<rect x="524.2" y="217.5" width="4.8" height="4" rx="1" fill="#bcbcc4"/>
<rect x="462.0" y="224.2" width="67.0" height="1.6" fill="#f2f2f6"/>
<rect x="470.8" y="227.0" width="11.0" height="5.1" rx="1.8" fill="#85858c"/>
<rect x="478.9" y="227.0" width="4" height="5" rx="2" fill="#e8e8ee"/>
<rect x="490.0" y="227.0" width="10.4" height="5" rx="1" fill="#a4a4aa"/>
<rect x="507.9" y="227.0" width="11.2" height="5.1" rx="1.8" fill="#85858c"/>
<rect x="506.9" y="227.0" width="4" height="5" rx="2" fill="#e8e8ee"/>
<rect x="462.0" y="227.2" width="3.8" height="4" rx="1" fill="#cacad0"/>
<rect x="524.4" y="227.2" width="4.6" height="4" rx="1" fill="#bcbcc4"/>
<rect x="462.0" y="233.9" width="67.0" height="1.6" fill="#f2f2f6"/>
<rect x="470.7" y="236.7" width="11.1" height="5.1" rx="1.8" fill="#85858c"/>
<rect x="478.8" y="236.7" width="4" height="5" rx="2" fill="#e8e8ee"/>
<rect x="490.0" y="236.7" width="10.4" height="5" rx="1" fill="#a4a4aa"/>
<rect x="507.9" y="236.7" width="11.3" height="5.1" rx="1.8" fill="#85858c"/>
<rect x="506.9" y="236.7" width="4" height="5" rx="2" fill="#e8e8ee"/>
<rect x="462.0" y="236.9" width="3.7" height="4" rx="1" fill="#cacad0"/>
<rect x="524.5" y="236.9" width="4.5" height="4" rx="1" fill="#bcbcc4"/>
<rect x="462.0" y="243.7" width="67.0" height="1.6" fill="#f2f2f6"/>
<rect x="470.6" y="246.5" width="11.2" height="5.1" rx="1.8" fill="#85858c"/>
<rect x="478.8" y="246.5" width="4" height="5" rx="2" fill="#e8e8ee"/>
<rect x="490.0" y="246.5" width="10.5" height="5" rx="1" fill="#a4a4aa"/>
<rect x="508.0" y="246.5" width="11.4" height="5.1" rx="1.8" fill="#85858c"/>
<rect x="507.0" y="246.5" width="4" height="5" rx="2" fill="#e8e8ee"/>
<rect x="462.0" y="246.7" width="3.6" height="4" rx="1" fill="#cacad0"/>
<rect x="524.6" y="246.7" width="4.4" height="4" rx="1" fill="#bcbcc4"/>
<rect x="462.0" y="253.4" width="67.0" height="1.6" fill="#f2f2f6"/>
<rect x="470.5" y="256.2" width="11.3" height="5.1" rx="1.8" fill="#85858c"/>
<rect x="478.7" y="256.2" width="4" height="5" rx="2" fill="#e8e8ee"/>
<rect x="489.9" y="256.2" width="10.6" height="5" rx="1" fill="#a4a4aa"/>
<rect x="508.0" y="256.2" width="11.5" height="5.1" rx="1.8" fill="#85858c"/>
<rect x="507.0" y="256.2" width="4" height="5" rx="2" fill="#e8e8ee"/>
<rect x="462.0" y="256.4" width="3.4" height="4" rx="1" fill="#cacad0"/>
<rect x="524.7" y="256.4" width="4.3" height="4" rx="1" fill="#bcbcc4"/>
<rect x="462.0" y="263.1" width="67.0" height="1.6" fill="#f2f2f6"/>
<rect x="470.3" y="265.9" width="11.3" height="5.1" rx="1.8" fill="#85858c"/>
<rect x="478.7" y="265.9" width="4" height="5" rx="2" fill="#e8e8ee"/>
<rect x="489.9" y="265.9" width="10.6" height="5" rx="1" fill="#a4a4aa"/>
<rect x="508.0" y="265.9" width="11.6" height="5.1" rx="1.8" fill="#85858c"/>
<rect x="507.0" y="265.9" width="4" height="5" rx="2" fill="#e8e8ee"/>
<rect x="462.0" y="266.1" width="3.3" height="4" rx="1" fill="#cacad0"/>
<rect x="524.9" y="266.1" width="4.1" height="4" rx="1" fill="#bcbcc4"/>
<rect x="462.0" y="272.8" width="67.0" height="1.6" fill="#f2f2f6"/>
<rect x="470.2" y="275.6" width="11.4" height="5.1" rx="1.8" fill="#85858c"/>
<rect x="478.6" y="275.6" width="4" height="5" rx="2" fill="#e8e8ee"/>
<rect x="489.9" y="275.6" width="10.7" height="5" rx="1" fill="#a4a4aa"/>
<rect x="508.0" y="275.6" width="11.7" height="5.1" rx="1.8" fill="#85858c"/>
<rect x="507.0" y="275.6" width="4" height="5" rx="2" fill="#e8e8ee"/>
<rect x="462.0" y="275.8" width="3.2" height="4" rx="1" fill="#cacad0"/>
<rect x="525.0" y="275.8" width="4.0" height="4" rx="1" fill="#bcbcc4"/>
<rect x="462.0" y="282.5" width="67.0" height="1.6" fill="#f2f2f6"/>
<rect x="470.1" y="285.3" width="11.5" height="5.1" rx="1.8" fill="#85858c"/>
<rect x="478.6" y="285.3" width="4" height="5" rx="2" fill="#e8e8ee"/>
<rect x="489.8" y="285.3" width="10.7" height="5" rx="1" fill="#a4a4aa"/>
<rect x="508.1" y="285.3" width="11.8" height="5.1" rx="1.8" fill="#85858c"/>
<rect x="507.1" y="285.3" width="4" height="5" rx="2" fill="#e8e8ee"/>
<rect x="462.0" y="285.5" width="3.0" height="4" rx="1" fill="#cacad0"/>
<rect x="525.1" y="285.5" width="3.9" height="4" rx="1" fill="#cacad0"/>
<rect x="462.0" y="292.3" width="67.0" height="1.6" fill="#f2f2f6"/>
<rect x="469.9" y="295.1" width="11.6" height="5.1" rx="1.8" fill="#85858c"/>
<rect x="478.5" y="295.1" width="4" height="5" rx="2" fill="#e8e8ee"/>
<rect x="489.8" y="295.1" width="10.8" height="5" rx="1" fill="#a4a4aa"/>
<rect x="508.1" y="295.1" width="11.9" height="5.1" rx="1.8" fill="#85858c"/>
<rect x="507.1" y="295.1" width="4" height="5" rx="2" fill="#e8e8ee"/>
<rect x="462.0" y="295.3" width="2.9" height="4" rx="1" fill="#cacad0"/>
<rect x="525.3" y="295.3" width="3.7" height="4" rx="1" fill="#cacad0"/>
<rect x="462.0" y="302.0" width="67.0" height="1.6" fill="#f2f2f6"/>
<rect x="469.8" y="304.8" width="11.7" height="5.1" rx="1.8" fill="#85858c"/>
<rect x="478.5" y="304.8" width="4" height="5" rx="2" fill="#e8e8ee"/>
<rect x="489.8" y="304.8" width="10.8" height="5" rx="1" fill="#a4a4aa"/>
<rect x="508.1" y="304.8" width="12.0" height="5.1" rx="1.8" fill="#85858c"/>
<rect x="507.1" y="304.8" width="4" height="5" rx="2" fill="#e8e8ee"/>
<rect x="462.0" y="305.0" width="2.8" height="4" rx="1" fill="#cacad0"/>
<rect x="525.4" y="305.0" width="3.6" height="4" rx="1" fill="#cacad0"/>
<rect x="462.0" y="311.7" width="67.0" height="1.6" fill="#f2f2f6"/>
<rect x="469.7" y="314.5" width="11.8" height="5.1" rx="1.8" fill="#85858c"/>
<rect x="478.4" y="314.5" width="4" height="5" rx="2" fill="#e8e8ee"/>
<rect x="489.7" y="314.5" width="10.9" height="5" rx="1" fill="#a4a4aa"/>
<rect x="508.2" y="314.5" width="12.1" height="5.1" rx="1.8" fill="#85858c"/>
<rect x="507.2" y="314.5" width="4" height="5" rx="2" fill="#e8e8ee"/>
<rect x="462.0" y="314.7" width="2.6" height="4" rx="1" fill="#cacad0"/>
<rect x="525.5" y="314.7" width="3.5" height="4" rx="1" fill="#cacad0"/>
<rect x="462.0" y="321.4" width="67.0" height="1.6" fill="#f2f2f6"/>
<rect x="469.6" y="324.2" width="11.8" height="5.1" rx="1.8" fill="#85858c"/>
<rect x="478.4" y="324.2" width="4" height="5" rx="2" fill="#e8e8ee"/>
<rect x="489.7" y="324.2" width="10.9" height="5" rx="1" fill="#a4a4aa"/>
<rect x="508.2" y="324.2" width="12.2" height="5.1" rx="1.8" fill="#85858c"/>
<rect x="507.2" y="324.2" width="4" height="5" rx="2" fill="#e8e8ee"/>
<rect x="462.0" y="324.4" width="2.5" height="4" rx="1" fill="#cacad0"/>
<rect x="525.6" y="324.4" width="3.4" height="4" rx="1" fill="#cacad0"/>
<rect x="462.0" y="331.1" width="67.0" height="1.6" fill="#f2f2f6"/>
<rect x="469.4" y="333.9" width="11.9" height="5.1" rx="1.8" fill="#85858c"/>
<rect x="478.3" y="333.9" width="4" height="5" rx="2" fill="#e8e8ee"/>
<rect x="489.7" y="333.9" width="11.0" height="5" rx="1" fill="#a4a4aa"/>
<rect x="508.2" y="333.9" width="12.3" height="5.1" rx="1.8" fill="#85858c"/>
<rect x="507.2" y="333.9" width="4" height="5" rx="2" fill="#e8e8ee"/>
<rect x="462.0" y="334.1" width="2.4" height="4" rx="1" fill="#cacad0"/>
<rect x="525.8" y="334.1" width="3.2" height="4" rx="1" fill="#cacad0"/>
<rect x="462.0" y="340.9" width="67.0" height="1.6" fill="#f2f2f6"/>
<rect x="469.3" y="343.7" width="12.0" height="5.1" rx="1.8" fill="#85858c"/>
<rect x="478.3" y="343.7" width="4" height="5" rx="2" fill="#e8e8ee"/>
<rect x="489.6" y="343.7" width="11.0" height="5" rx="1" fill="#a4a4aa"/>
<rect x="508.2" y="343.7" width="12.4" height="5.1" rx="1.8" fill="#85858c"/>
<rect x="507.2" y="343.7" width="4" height="5" rx="2" fill="#e8e8ee"/>
<rect x="462.0" y="343.9" width="2.2" height="4" rx="1" fill="#cacad0"/>
<rect x="525.9" y="343.9" width="3.1" height="4" rx="1" fill="#cacad0"/>
<rect x="462.0" y="350.6" width="67.0" height="1.6" fill="#f2f2f6"/>
<rect x="469.2" y="353.4" width="12.1" height="5.1" rx="1.8" fill="#85858c"/>
<rect x="478.3" y="353.4" width="4" height="5" rx="2" fill="#e8e8ee"/>
<rect x="489.6" y="353.4" width="11.1" height="5" rx="1" fill="#a4a4aa"/>
<rect x="508.3" y="353.4" width="12.5" height="5.1" rx="1.8" fill="#85858c"/>
<rect x="507.3" y="353.4" width="4" height="5" rx="2" fill="#e8e8ee"/>
<rect x="462.0" y="353.6" width="2.1" height="4" rx="1" fill="#cacad0"/>
<rect x="526.0" y="353.6" width="3.0" height="4" rx="1" fill="#cacad0"/>
<rect x="462.0" y="360.3" width="67.0" height="1.6" fill="#f2f2f6"/>
<rect x="469.0" y="363.1" width="12.2" height="5.1" rx="1.8" fill="#85858c"/>
<rect x="478.2" y="363.1" width="4" height="5" rx="2" fill="#e8e8ee"/>
<rect x="489.6" y="363.1" width="11.1" height="5" rx="1" fill="#a4a4aa"/>
<rect x="508.3" y="363.1" width="12.6" height="5.1" rx="1.8" fill="#85858c"/>
<rect x="507.3" y="363.1" width="4" height="5" rx="2" fill="#e8e8ee"/>
<rect x="462.0" y="363.3" width="2.0" height="4" rx="1" fill="#cacad0"/>
<rect x="526.2" y="363.3" width="2.8" height="4" rx="1" fill="#cacad0"/>
<rect x="462.0" y="370.0" width="67.0" height="1.6" fill="#f2f2f6"/>
<rect x="468.9" y="372.8" width="12.2" height="5.1" rx="1.8" fill="#85858c"/>
<rect x="478.2" y="372.8" width="4" height="5" rx="2" fill="#e8e8ee"/>
<rect x="489.5" y="372.8" width="11.2" height="5" rx="1" fill="#a4a4aa"/>
<rect x="508.3" y="372.8" width="12.7" height="5.1" rx="1.8" fill="#85858c"/>
<rect x="507.3" y="372.8" width="4" height="5" rx="2" fill="#e8e8ee"/>
<rect x="462.0" y="373.0" width="1.8" height="4" rx="1" fill="#cacad0"/>
<rect x="526.3" y="373.0" width="2.7" height="4" rx="1" fill="#cacad0"/>
<rect x="462.0" y="379.7" width="67.0" height="1.6" fill="#f2f2f6"/>
<rect x="468.8" y="382.5" width="12.3" height="5.1" rx="1.8" fill="#85858c"/>
<rect x="478.1" y="382.5" width="4" height="5" rx="2" fill="#e8e8ee"/>
<rect x="489.5" y="382.5" width="11.2" height="5" rx="1" fill="#a4a4aa"/>
<rect x="508.3" y="382.5" width="12.8" height="5.1" rx="1.8" fill="#85858c"/>
<rect x="507.3" y="382.5" width="4" height="5" rx="2" fill="#e8e8ee"/>
<rect x="462.0" y="382.7" width="1.7" height="4" rx="1" fill="#cacad0"/>
<rect x="526.4" y="382.7" width="2.6" height="4" rx="1" fill="#cacad0"/>
<rect x="462.0" y="389.5" width="67.0" height="1.6" fill="#f2f2f6"/>
<rect x="468.7" y="392.3" width="12.4" height="5.1" rx="1.8" fill="#85858c"/>
<rect x="478.1" y="392.3" width="4" height="5" rx="2" fill="#e8e8ee"/>
<rect x="489.5" y="392.3" width="11.3" height="5" rx="1" fill="#a4a4aa"/>
<rect x="508.4" y="392.3" width="12.9" height="5.1" rx="1.8" fill="#85858c"/>
<rect x="507.4" y="392.3" width="4" height="5" rx="2" fill="#e8e8ee"/>
<rect x="462.0" y="392.5" width="1.6" height="4" rx="1" fill="#cacad0"/>
<rect x="526.5" y="392.5" width="2.5" height="4" rx="1" fill="#cacad0"/>
<rect x="462.0" y="399.2" width="67.0" height="1.6" fill="#f2f2f6"/>
<rect x="468.5" y="402.0" width="12.5" height="5.1" rx="1.8" fill="#8c8c94"/>
<rect x="478.0" y="402.0" width="4" height="5" rx="2" fill="#e8e8ee"/>
<rect x="489.4" y="402.0" width="11.4" height="5" rx="1" fill="#a4a4aa"/>
<rect x="508.4" y="402.0" width="13.0" height="5.1" rx="1.8" fill="#8c8c94"/>
<rect x="507.4" y="402.0" width="4" height="5" rx="2" fill="#e8e8ee"/>
<rect x="462.0" y="402.2" width="1.5" height="4" rx="1" fill="#cacad0"/>
<rect x="526.7" y="402.2" width="2.3" height="4" rx="1" fill="#cacad0"/>
<rect x="461.6" y="408.9" width="67.9" height="1.6" fill="#f2f2f6"/>
<rect x="468.4" y="411.7" width="12.6" height="5.1" rx="1.8" fill="#8c8c94"/>
<rect x="478.0" y="411.7" width="4" height="5" rx="2" fill="#e8e8ee"/>
<rect x="489.4" y="411.7" width="11.4" height="5" rx="1" fill="#a4a4aa"/>
<rect x="508.4" y="411.7" width="13.1" height="5.1" rx="1.8" fill="#8c8c94"/>
<rect x="507.4" y="411.7" width="4" height="5" rx="2" fill="#e8e8ee"/>
<rect x="461.6" y="411.9" width="1.7" height="4" rx="1" fill="#cacad0"/>
<rect x="526.8" y="411.9" width="2.6" height="4" rx="1" fill="#cacad0"/>
<rect x="461.2" y="418.6" width="68.7" height="1.6" fill="#f2f2f6"/>
<rect x="468.3" y="421.4" width="12.7" height="5.1" rx="1.8" fill="#8c8c94"/>
<rect x="477.9" y="421.4" width="4" height="5" rx="2" fill="#e8e8ee"/>
<rect x="489.4" y="421.4" width="11.5" height="5" rx="1" fill="#a4a4aa"/>
<rect x="508.5" y="421.4" width="13.2" height="5.1" rx="1.8" fill="#8c8c94"/>
<rect x="507.5" y="421.4" width="4" height="5" rx="2" fill="#e8e8ee"/>
<rect x="461.2" y="421.6" width="2.0" height="4" rx="1" fill="#cacad0"/>
<rect x="526.9" y="421.6" width="2.9" height="4" rx="1" fill="#cacad0"/>
<rect x="460.8" y="428.3" width="69.5" height="1.6" fill="#f2f2f6"/>
<rect x="468.1" y="431.1" width="12.7" height="5.1" rx="1.8" fill="#8c8c94"/>
<rect x="477.9" y="431.1" width="4" height="5" rx="2" fill="#e8e8ee"/>
<rect x="489.3" y="431.1" width="11.5" height="5" rx="1" fill="#a4a4aa"/>
<rect x="508.5" y="431.1" width="13.3" height="5.1" rx="1.8" fill="#8c8c94"/>
<rect x="507.5" y="431.1" width="4" height="5" rx="2" fill="#e8e8ee"/>
<rect x="460.8" y="431.3" width="2.3" height="4" rx="1" fill="#cacad0"/>
<rect x="527.1" y="431.3" width="3.2" height="4" rx="1" fill="#cacad0"/>
<rect x="460.3" y="438.1" width="70.4" height="1.6" fill="#f2f2f6"/>
<rect x="468.0" y="440.9" width="12.8" height="5.1" rx="1.8" fill="#8c8c94"/>
<rect x="477.8" y="440.9" width="4" height="5" rx="2" fill="#e8e8ee"/>
<rect x="489.3" y="440.9" width="11.6" height="5" rx="1" fill="#a4a4aa"/>
<rect x="508.5" y="440.9" width="13.4" height="5.1" rx="1.8" fill="#8c8c94"/>
<rect x="507.5" y="440.9" width="4" height="5" rx="2" fill="#e8e8ee"/>
<rect x="460.3" y="441.1" width="2.6" height="4" rx="1" fill="#cacad0"/>
<rect x="527.2" y="441.1" width="3.5" height="4" rx="1" fill="#cacad0"/>
<rect x="459.9" y="447.8" width="71.2" height="1.6" fill="#f2f2f6"/>
<rect x="467.9" y="450.6" width="12.9" height="5.1" rx="1.8" fill="#8c8c94"/>
<rect x="477.8" y="450.6" width="4" height="5" rx="2" fill="#e8e8ee"/>
<rect x="489.3" y="450.6" width="11.6" height="5" rx="1" fill="#a4a4aa"/>
<rect x="508.5" y="450.6" width="13.5" height="5.1" rx="1.8" fill="#8c8c94"/>
<rect x="507.5" y="450.6" width="4" height="5" rx="2" fill="#e8e8ee"/>
<rect x="459.9" y="450.8" width="2.8" height="4" rx="1" fill="#cacad0"/>
<rect x="527.3" y="450.8" width="3.8" height="4" rx="1" fill="#cacad0"/>
<rect x="459.5" y="457.5" width="72.0" height="1.6" fill="#f2f2f6"/>
<rect x="467.8" y="460.3" width="13.0" height="5.1" rx="1.8" fill="#8c8c94"/>
<rect x="477.7" y="460.3" width="4" height="5" rx="2" fill="#e8e8ee"/>
<rect x="489.2" y="460.3" width="11.7" height="5" rx="1" fill="#a4a4aa"/>
<rect x="508.6" y="460.3" width="13.6" height="5.1" rx="1.8" fill="#8c8c94"/>
<rect x="507.6" y="460.3" width="4" height="5" rx="2" fill="#e8e8ee"/>
<rect x="459.5" y="460.5" width="3.1" height="4" rx="1" fill="#cacad0"/>
<rect x="527.4" y="460.5" width="4.1" height="4" rx="1" fill="#bcbcc4"/>
<rect x="459.1" y="467.2" width="72.9" height="1.6" fill="#f2f2f6"/>
<rect x="467.6" y="470.0" width="13.1" height="5.1" rx="1.8" fill="#8c8c94"/>
<rect x="477.7" y="470.0" width="4" height="5" rx="2" fill="#e8e8ee"/>
<rect x="489.2" y="470.0" width="11.7" height="5" rx="1" fill="#a4a4aa"/>
<rect x="508.6" y="470.0" width="13.7" height="5.1" rx="1.8" fill="#8c8c94"/>
<rect x="507.6" y="470.0" width="4" height="5" rx="2" fill="#e8e8ee"/>
<rect x="459.1" y="470.2" width="3.4" height="4" rx="1" fill="#cacad0"/>
<rect x="527.6" y="470.2" width="4.4" height="4" rx="1" fill="#bcbcc4"/>
<rect x="458.7" y="476.9" width="73.7" height="1.6" fill="#f2f2f6"/>
<rect x="467.5" y="479.7" width="13.2" height="5.1" rx="1.8" fill="#8c8c94"/>
<rect x="477.7" y="479.7" width="4" height="5" rx="2" fill="#e8e8ee"/>
<rect x="489.2" y="479.7" width="11.8" height="5" rx="1" fill="#a4a4aa"/>
<rect x="508.6" y="479.7" width="13.8" height="5.1" rx="1.8" fill="#8c8c94"/>
<rect x="507.6" y="479.7" width="4" height="5" rx="2" fill="#e8e8ee"/>
<rect x="458.7" y="479.9" width="3.7" height="4" rx="1" fill="#cacad0"/>
<rect x="527.7" y="479.9" width="4.7" height="4" rx="1" fill="#bcbcc4"/>
<rect x="458.3" y="486.7" width="74.6" height="1.6" fill="#f2f2f6"/>
<rect x="467.4" y="489.5" width="13.2" height="5.1" rx="1.8" fill="#8c8c94"/>
<rect x="477.6" y="489.5" width="4" height="5" rx="2" fill="#e8e8ee"/>
<rect x="489.1" y="489.5" width="11.8" height="5" rx="1" fill="#a4a4aa"/>
<rect x="508.6" y="489.5" width="13.9" height="5.1" rx="1.8" fill="#8c8c94"/>
<rect x="507.6" y="489.5" width="4" height="5" rx="2" fill="#e8e8ee"/>
<rect x="458.3" y="489.7" width="4.0" height="4" rx="1" fill="#cacad0"/>
<rect x="527.8" y="489.7" width="5.0" height="4" rx="1" fill="#bcbcc4"/>
<rect x="457.9" y="496.4" width="75.4" height="1.6" fill="#f2f2f6"/>
<rect x="467.2" y="499.2" width="13.3" height="5.1" rx="1.8" fill="#8c8c94"/>
<rect x="477.6" y="499.2" width="4" height="5" rx="2" fill="#e8e8ee"/>
<rect x="489.1" y="499.2" width="11.9" height="5" rx="1" fill="#a4a4aa"/>
<rect x="508.7" y="499.2" width="14.0" height="5.1" rx="1.8" fill="#8c8c94"/>
<rect x="507.7" y="499.2" width="4" height="5" rx="2" fill="#e8e8ee"/>
<rect x="457.9" y="499.4" width="4.2" height="4" rx="1" fill="#bcbcc4"/>
<rect x="528.0" y="499.4" width="5.3" height="4" rx="1" fill="#bcbcc4"/>
<rect x="457.5" y="506.1" width="76.2" height="1.6" fill="#f2f2f6"/>
<rect x="467.1" y="508.9" width="13.4" height="5.1" rx="1.8" fill="#8c8c94"/>
<rect x="477.5" y="508.9" width="4" height="5" rx="2" fill="#e8e8ee"/>
<rect x="489.1" y="508.9" width="11.9" height="5" rx="1" fill="#a4a4aa"/>
<rect x="508.7" y="508.9" width="14.1" height="5.1" rx="1.8" fill="#8c8c94"/>
<rect x="507.7" y="508.9" width="4" height="5" rx="2" fill="#e8e8ee"/>
<rect x="457.5" y="509.1" width="4.5" height="4" rx="1" fill="#bcbcc4"/>
<rect x="528.1" y="509.1" width="5.6" height="4" rx="1" fill="#bcbcc4"/>
<rect x="457.1" y="515.8" width="77.1" height="1.6" fill="#f2f2f6"/>
<rect x="467.0" y="518.6" width="13.5" height="5.1" rx="1.8" fill="#8c8c94"/>
<rect x="477.5" y="518.6" width="4" height="5" rx="2" fill="#e8e8ee"/>
<rect x="489.0" y="518.6" width="12.0" height="5" rx="1" fill="#a4a4aa"/>
<rect x="508.7" y="518.6" width="14.2" height="5.1" rx="1.8" fill="#8c8c94"/>
<rect x="507.7" y="518.6" width="4" height="5" rx="2" fill="#e8e8ee"/>
<rect x="457.1" y="518.8" width="4.8" height="4" rx="1" fill="#bcbcc4"/>
<rect x="528.2" y="518.8" width="5.9" height="4" rx="1" fill="#bcbcc4"/>
<rect x="456.6" y="525.5" width="77.9" height="1.6" fill="#f2f2f6"/>
<rect x="466.9" y="528.3" width="13.6" height="5.1" rx="1.8" fill="#8c8c94"/>
<rect x="477.4" y="528.3" width="4" height="5" rx="2" fill="#e8e8ee"/>
<rect x="489.0" y="528.3" width="12.0" height="5" rx="1" fill="#a4a4aa"/>
<rect x="508.8" y="528.3" width="14.3" height="5.1" rx="1.8" fill="#8c8c94"/>
<rect x="507.8" y="528.3" width="4" height="5" rx="2" fill="#e8e8ee"/>
<rect x="456.6" y="528.5" width="5.1" height="4" rx="1" fill="#bcbcc4"/>
<rect x="528.3" y="528.5" width="6.2" height="4" rx="1" fill="#bcbcc4"/>
<rect x="456.2" y="535.3" width="78.7" height="1.6" fill="#f2f2f6"/>
<rect x="466.7" y="538.1" width="13.6" height="5.1" rx="1.8" fill="#8c8c94"/>
<rect x="477.4" y="538.1" width="4" height="5" rx="2" fill="#e8e8ee"/>
<rect x="488.9" y="538.1" width="12.1" height="5" rx="1" fill="#a4a4aa"/>
<rect x="508.8" y="538.1" width="14.4" height="5.1" rx="1.8" fill="#8c8c94"/>
<rect x="507.8" y="538.1" width="4" height="5" rx="2" fill="#e8e8ee"/>
<rect x="456.2" y="538.3" width="5.4" height="4" rx="1" fill="#bcbcc4"/>
<rect x="528.5" y="538.3" width="6.5" height="4" rx="1" fill="#bcbcc4"/>
<rect x="455.8" y="545.0" width="79.6" height="1.6" fill="#f2f2f6"/>
<rect x="466.6" y="547.8" width="13.7" height="5.1" rx="1.8" fill="#8c8c94"/>
<rect x="477.3" y="547.8" width="4" height="5" rx="2" fill="#e8e8ee"/>
<rect x="488.9" y="547.8" width="12.1" height="5" rx="1" fill="#a4a4aa"/>
<rect x="508.8" y="547.8" width="14.5" height="5.1" rx="1.8" fill="#8c8c94"/>
<rect x="507.8" y="547.8" width="4" height="5" rx="2" fill="#e8e8ee"/>
<rect x="455.8" y="548.0" width="5.6" height="4" rx="1" fill="#bcbcc4"/>
<rect x="528.6" y="548.0" width="6.8" height="4" rx="1" fill="#bcbcc4"/>
<rect x="455.4" y="554.7" width="80.4" height="1.6" fill="#f2f2f6"/>
<rect x="466.5" y="557.5" width="13.8" height="5.1" rx="1.8" fill="#8c8c94"/>
<rect x="477.3" y="557.5" width="4" height="5" rx="2" fill="#e8e8ee"/>
<rect x="488.9" y="557.5" width="12.2" height="5" rx="1" fill="#a4a4aa"/>
<rect x="508.8" y="557.5" width="14.5" height="5.1" rx="1.8" fill="#8c8c94"/>
<rect x="507.8" y="557.5" width="4" height="5" rx="2" fill="#e8e8ee"/>
<rect x="455.4" y="557.7" width="5.9" height="4" rx="1" fill="#bcbcc4"/>
<rect x="528.7" y="557.7" width="7.1" height="4" rx="1" fill="#bcbcc4"/>
<rect x="455.0" y="564.4" width="81.3" height="1.6" fill="#f2f2f6"/>
<rect x="466.3" y="567.2" width="13.9" height="5.1" rx="1.8" fill="#8c8c94"/>
<rect x="477.2" y="567.2" width="4" height="5" rx="2" fill="#e8e8ee"/>
<rect x="488.8" y="567.2" width="12.3" height="5" rx="1" fill="#a4a4aa"/>
<rect x="508.9" y="567.2" width="14.6" height="5.1" rx="1.8" fill="#8c8c94"/>
<rect x="507.9" y="567.2" width="4" height="5" rx="2" fill="#e8e8ee"/>
<rect x="455.0" y="567.4" width="6.2" height="4" rx="1" fill="#bcbcc4"/>
<rect x="528.9" y="567.4" width="7.4" height="4" rx="1" fill="#bcbcc4"/>
<rect x="454.6" y="574.1" width="82.1" height="1.6" fill="#f2f2f6"/>
<rect x="466.2" y="576.9" width="14.0" height="5.1" rx="1.8" fill="#8c8c94"/>
<rect x="477.2" y="576.9" width="4" height="5" rx="2" fill="#e8e8ee"/>
<rect x="488.8" y="576.9" width="12.3" height="5" rx="1" fill="#a4a4aa"/>
<rect x="508.9" y="576.9" width="14.7" height="5.1" rx="1.8" fill="#8c8c94"/>
<rect x="507.9" y="576.9" width="4" height="5" rx="2" fill="#e8e8ee"/>
<rect x="454.6" y="577.1" width="6.5" height="4" rx="1" fill="#bcbcc4"/>
<rect x="529.0" y="577.1" width="7.7" height="4" rx="1" fill="#bcbcc4"/>
<rect x="454.2" y="583.9" width="82.9" height="1.6" fill="#f2f2f6"/>
<rect x="466.1" y="586.7" width="14.1" height="5.1" rx="1.8" fill="#8c8c94"/>
<rect x="477.1" y="586.7" width="4" height="5" rx="2" fill="#e8e8ee"/>
<rect x="488.8" y="586.7" width="12.4" height="5" rx="1" fill="#a4a4aa"/>
<rect x="508.9" y="586.7" width="14.8" height="5.1" rx="1.8" fill="#8c8c94"/>
<rect x="507.9" y="586.7" width="4" height="5" rx="2" fill="#e8e8ee"/>
<rect x="454.2" y="586.9" width="6.8" height="4" rx="1" fill="#bcbcc4"/>
<rect x="529.1" y="586.9" width="8.0" height="4" rx="1" fill="#bcbcc4"/>
<rect x="453.8" y="593.6" width="83.8" height="1.6" fill="#f2f2f6"/>
<rect x="466.0" y="596.4" width="14.1" height="5.1" rx="1.8" fill="#8c8c94"/>
<rect x="477.1" y="596.4" width="4" height="5" rx="2" fill="#e8e8ee"/>
<rect x="488.7" y="596.4" width="12.4" height="5" rx="1" fill="#a4a4aa"/>
<rect x="508.9" y="596.4" width="14.9" height="5.1" rx="1.8" fill="#8c8c94"/>
<rect x="507.9" y="596.4" width="4" height="5" rx="2" fill="#e8e8ee"/>
<rect x="453.8" y="596.6" width="7.0" height="4" rx="1" fill="#bcbcc4"/>
<rect x="529.2" y="596.6" width="8.3" height="4" rx="1" fill="#bcbcc4"/>
<rect x="453.4" y="603.3" width="84.6" height="1.6" fill="#f2f2f6"/>
<rect x="465.8" y="606.1" width="14.2" height="5.1" rx="1.8" fill="#92929a"/>
<rect x="477.1" y="606.1" width="4" height="5" rx="2" fill="#e8e8ee"/>
<rect x="488.7" y="606.1" width="12.5" height="5" rx="1" fill="#a4a4aa"/>
<rect x="509.0" y="606.1" width="15.0" height="5.1" rx="1.8" fill="#92929a"/>
<rect x="508.0" y="606.1" width="4" height="5" rx="2" fill="#e8e8ee"/>
<rect x="453.4" y="606.3" width="7.3" height="4" rx="1" fill="#bcbcc4"/>
<rect x="529.4" y="606.3" width="8.6" height="4" rx="1" fill="#bcbcc4"/>
<rect x="452.9" y="613.0" width="85.5" height="1.6" fill="#f2f2f6"/>
<rect x="465.7" y="615.8" width="14.3" height="5.1" rx="1.8" fill="#92929a"/>
<rect x="477.0" y="615.8" width="4" height="5" rx="2" fill="#e8e8ee"/>
<rect x="488.7" y="615.8" width="12.5" height="5" rx="1" fill="#a4a4aa"/>
<rect x="509.0" y="615.8" width="15.1" height="5.1" rx="1.8" fill="#92929a"/>
<rect x="508.0" y="615.8" width="4" height="5" rx="2" fill="#e8e8ee"/>
<rect x="452.9" y="616.0" width="7.6" height="4" rx="1" fill="#bcbcc4"/>
<rect x="529.5" y="616.0" width="8.9" height="4" rx="1" fill="#bcbcc4"/>
<rect x="452.5" y="622.7" width="86.3" height="1.6" fill="#f2f2f6"/>
<rect x="465.6" y="625.5" width="14.4" height="5.1" rx="1.8" fill="#92929a"/>
<rect x="477.0" y="625.5" width="4" height="5" rx="2" fill="#e8e8ee"/>
<rect x="488.6" y="625.5" width="12.6" height="5" rx="1" fill="#a4a4aa"/>
<rect x="509.0" y="625.5" width="15.2" height="5.1" rx="1.8" fill="#92929a"/>
<rect x="508.0" y="625.5" width="4" height="5" rx="2" fill="#e8e8ee"/>
<rect x="452.5" y="625.7" width="7.9" height="4" rx="1" fill="#bcbcc4"/>
<rect x="529.6" y="625.7" width="9.2" height="4" rx="1" fill="#bcbcc4"/>
<rect x="452.1" y="632.5" width="87.1" height="1.6" fill="#f2f2f6"/>
<rect x="465.4" y="635.3" width="14.5" height="5.1" rx="1.8" fill="#92929a"/>
<rect x="476.9" y="635.3" width="4" height="5" rx="2" fill="#e8e8ee"/>
<rect x="488.6" y="635.3" width="12.6" height="5" rx="1" fill="#a4a4aa"/>
<rect x="509.1" y="635.3" width="15.3" height="5.1" rx="1.8" fill="#92929a"/>
<rect x="508.1" y="635.3" width="4" height="5" rx="2" fill="#e8e8ee"/>
<rect x="452.1" y="635.5" width="8.2" height="4" rx="1" fill="#bcbcc4"/>
<rect x="529.8" y="635.5" width="9.5" height="4" rx="1" fill="#bcbcc4"/>
<rect x="451.7" y="642.2" width="88.0" height="1.6" fill="#f2f2f6"/>
<rect x="465.3" y="645.0" width="14.5" height="5.1" rx="1.8" fill="#92929a"/>
<rect x="476.9" y="645.0" width="4" height="5" rx="2" fill="#e8e8ee"/>
<rect x="488.6" y="645.0" width="12.7" height="5" rx="1" fill="#a4a4aa"/>
<rect x="509.1" y="645.0" width="15.4" height="5.1" rx="1.8" fill="#92929a"/>
<rect x="508.1" y="645.0" width="4" height="5" rx="2" fill="#e8e8ee"/>
<rect x="451.7" y="645.2" width="8.4" height="4" rx="1" fill="#bcbcc4"/>
<rect x="529.9" y="645.2" width="9.8" height="4" rx="1" fill="#bcbcc4"/>
<rect x="451.3" y="651.9" width="88.8" height="1.6" fill="#f2f2f6"/>
<rect x="465.2" y="654.7" width="14.6" height="5.1" rx="1.8" fill="#92929a"/>
<rect x="476.8" y="654.7" width="4" height="5" rx="2" fill="#e8e8ee"/>
<rect x="488.5" y="654.7" width="12.7" height="5" rx="1" fill="#a4a4aa"/>
<rect x="509.1" y="654.7" width="15.5" height="5.1" rx="1.8" fill="#92929a"/>
<rect x="508.1" y="654.7" width="4" height="5" rx="2" fill="#e8e8ee"/>
<rect x="451.3" y="654.9" width="8.7" height="4" rx="1" fill="#bcbcc4"/>
<rect x="530.0" y="654.9" width="10.1" height="4" rx="1" fill="#bcbcc4"/>
<rect x="450.9" y="661.6" width="89.6" height="1.6" fill="#f2f2f6"/>
<rect x="465.1" y="664.4" width="14.7" height="5.1" rx="1.8" fill="#92929a"/>
<rect x="476.8" y="664.4" width="4" height="5" rx="2" fill="#e8e8ee"/>
<rect x="488.5" y="664.4" width="12.8" height="5" rx="1" fill="#a4a4aa"/>
<rect x="509.1" y="664.4" width="15.6" height="5.1" rx="1.8" fill="#92929a"/>
<rect x="508.1" y="664.4" width="4" height="5" rx="2" fill="#e8e8ee"/>
<rect x="450.9" y="664.6" width="9.0" height="4" rx="1" fill="#bcbcc4"/>
<rect x="530.1" y="664.6" width="10.4" height="4" rx="1" fill="#bcbcc4"/>
<rect x="450.5" y="671.3" width="90.5" height="1.6" fill="#f2f2f6"/>
<rect x="464.9" y="674.1" width="14.8" height="5.1" rx="1.8" fill="#92929a"/>
<rect x="476.7" y="674.1" width="4" height="5" rx="2" fill="#e8e8ee"/>
<rect x="488.5" y="674.1" width="12.8" height="5" rx="1" fill="#a4a4aa"/>
<rect x="509.2" y="674.1" width="15.7" height="5.1" rx="1.8" fill="#92929a"/>
<rect x="508.2" y="674.1" width="4" height="5" rx="2" fill="#e8e8ee"/>
<rect x="450.5" y="674.3" width="9.3" height="4" rx="1" fill="#bcbcc4"/>
<rect x="530.3" y="674.3" width="10.7" height="4" rx="1" fill="#bcbcc4"/>
<rect x="450.1" y="681.1" width="91.3" height="1.6" fill="#f2f2f6"/>
<rect x="464.8" y="683.9" width="14.9" height="5.1" rx="1.8" fill="#92929a"/>
<rect x="476.7" y="683.9" width="4" height="5" rx="2" fill="#e8e8ee"/>
<rect x="488.4" y="683.9" width="12.9" height="5" rx="1" fill="#a4a4aa"/>
<rect x="509.2" y="683.9" width="15.8" height="5.1" rx="1.8" fill="#92929a"/>
<rect x="508.2" y="683.9" width="4" height="5" rx="2" fill="#e8e8ee"/>
<rect x="450.1" y="684.1" width="9.6" height="4" rx="1" fill="#bcbcc4"/>
<rect x="530.4" y="684.1" width="11.0" height="4" rx="1" fill="#bcbcc4"/>
<rect x="449.7" y="690.8" width="92.2" height="1.6" fill="#f2f2f6"/>
<rect x="464.7" y="693.6" width="15.0" height="5.1" rx="1.8" fill="#92929a"/>
<rect x="476.6" y="693.6" width="4" height="5" rx="2" fill="#e8e8ee"/>
<rect x="488.4" y="693.6" width="12.9" height="5" rx="1" fill="#a4a4aa"/>
<rect x="509.2" y="693.6" width="15.9" height="5.1" rx="1.8" fill="#92929a"/>
<rect x="508.2" y="693.6" width="4" height="5" rx="2" fill="#e8e8ee"/>
<rect x="449.7" y="693.8" width="9.8" height="4" rx="1" fill="#bcbcc4"/>
<rect x="530.5" y="693.8" width="11.3" height="4" rx="1" fill="#bcbcc4"/>
<rect x="449.2" y="700.5" width="93.0" height="1.6" fill="#f2f2f6"/>
<rect x="464.5" y="703.3" width="15.0" height="5.1" rx="1.8" fill="#92929a"/>
<rect x="476.6" y="703.3" width="4" height="5" rx="2" fill="#e8e8ee"/>
<rect x="488.4" y="703.3" width="13.0" height="5" rx="1" fill="#a4a4aa"/>
<rect x="509.2" y="703.3" width="16.0" height="5.1" rx="1.8" fill="#92929a"/>
<rect x="508.2" y="703.3" width="4" height="5" rx="2" fill="#e8e8ee"/>
<rect x="449.2" y="703.5" width="10.1" height="4" rx="1" fill="#bcbcc4"/>
<rect x="530.7" y="703.5" width="11.6" height="4" rx="1" fill="#bcbcc4"/>
<rect x="448.8" y="710.2" width="93.8" height="1.6" fill="#f2f2f6"/>
<rect x="464.4" y="713.0" width="15.1" height="5.1" rx="1.8" fill="#92929a"/>
<rect x="476.5" y="713.0" width="4" height="5" rx="2" fill="#e8e8ee"/>
<rect x="488.3" y="713.0" width="13.1" height="5" rx="1" fill="#a4a4aa"/>
<rect x="509.3" y="713.0" width="16.1" height="5.1" rx="1.8" fill="#92929a"/>
<rect x="508.3" y="713.0" width="4" height="5" rx="2" fill="#e8e8ee"/>
<rect x="448.8" y="713.2" width="10.4" height="4" rx="1" fill="#bcbcc4"/>
<rect x="530.8" y="713.2" width="11.9" height="4" rx="1" fill="#bcbcc4"/>
<polygon points="462.0,400 464.0,400 451.0,719 448.5,719" fill="#c4c6dc"/>
<polygon points="527.0,400 529.0,400 543.0,719 540.5,719" fill="#c4c6dc"/>
<polygon points="451,688 541,688 543,719 449,719" fill="#cfccd2"/>
<rect x="449" y="688" width="94" height="2" fill="#e8e8ec"/>
<ellipse cx="470" cy="703" rx="8" ry="13" fill="#7e8068" opacity="0.85" filter="url(#bl1)"/>
<ellipse cx="455" cy="705" rx="4" ry="10" fill="#8a8c80" opacity="0.7" filter="url(#bl1)"/>
<ellipse cx="517" cy="706" rx="9" ry="11" fill="#b49ab8" opacity="0.7" filter="url(#bl1)"/>
<rect x="490" y="690" width="10" height="28" fill="#c0c4cc"/>
</g>

<!-- ground line -->
<rect x="8" y="718.4" width="992" height="1.8" fill="#383838"/>

<!-- ============ DIAGRAM ============ -->
<g id="diagram" fill="none" stroke-linecap="round" stroke-linejoin="round">
  <!-- lime outer lines -->
  <path d="M467.3,726 L459.6,726 M459.6,726" stroke="#9fc93c" stroke-width="2"/>
  <path d="M459.6,725 L467.3,157.5 Q467.3,153.3 471.5,153.3 L484,153.3" stroke="#a3cc3e" stroke-width="2.5"/>
  <path d="M530.4,725 L522.9,157.5 Q522.9,153.3 518.7,153.3 L506,153.3" stroke="#a3cc3e" stroke-width="2.5"/>
  <!-- blue outer rect left -->
  <path d="M463.1,721 L470.6,157 Q470.6,154 474,154 L485.5,154 Q488.8,154 488.8,157" stroke="#2a88c2" stroke-width="2.5"/>
  <path d="M526.7,722 L519.4,157 Q519.4,154 516,154 L505,154 Q501.8,154 501.8,157" stroke="#2a88c2" stroke-width="2.5"/>
  <path d="M488.8,157 L487,720 M501.8,157 L503,720" stroke="url(#inblue)" stroke-width="2.5"/>
  <!-- dark green inner -->
  <path d="M485.7,156 L483,726" stroke="#1aa84a" stroke-width="2.9"/>
  <path d="M504.2,156 L505.8,726" stroke="#1aa84a" stroke-width="2.9"/>
  <!-- dark green floor dividers -->
  <g stroke="#4cbc44" stroke-width="3" stroke-linecap="butt">
    <path d="M470.5,214 L485.7,214 M504.2,214 L519.5,214"/>
    <path d="M466,284.5 L485.4,284.5 M504.4,284.5 L523.5,284.5"/>
    <path d="M465,361.5 L485,361.5 M504.7,361.5 L524.5,361.5"/>
    <path d="M464,438.7 L484.6,438.7 M505,438.7 L525.5,438.7"/>
    <path d="M463,515.8 L484.3,515.8 M505.2,515.8 L526.7,515.8"/>
    <path d="M462,590 L483.8,590 M505.4,590 L527.7,590"/>
    <path d="M461,666.5 L483.3,666.5 M505.6,666.5 L528.7,666.5"/>
  </g>
  <!-- center line -->
  <rect x="493.8" y="250" width="4" height="470" fill="url(#ctrblue)" stroke="none"/>
  <rect x="494.5" y="108" width="3.8" height="180" fill="url(#redg)" stroke="none"/>
  <polygon points="496.5,88 491,110 502.5,110" fill="#e8463a" stroke="none"/>
  <!-- blue curved arrows at top -->
  <path d="M496,142 Q455,114.5 413,141.5" stroke="url(#curvL)" stroke-width="1.7"/>
  <path d="M497,142 Q538,114.5 578,141.5" stroke="url(#curvR)" stroke-width="1.7"/>
  <polygon points="409.5,143.5 417,135 419,141" fill="#3b8ec6" stroke="none"/>
  <polygon points="582,143.5 574,135 572,141" fill="#3b8ec6" stroke="none"/>
  <!-- orange bars left -->
  <g stroke="#ea6a2a" stroke-width="3">
    <path d="M470,342.3 L482.5,342.3 M470,351.9 L482.5,351.9 M470,371.2 L482.5,371.2 M470,380.6 L482.5,380.6 M470,390.2 L482.5,390.2"/>
    <path d="M508.5,533 L523.5,533 M508.5,542.7 L523.5,542.7 M508.5,552.5 L523.5,552.5 M508.5,562.3 L523.5,562.3 M508.5,571.9 L523.5,571.9 M508.5,581.5 L523.5,581.5"/>
  </g>
  <g fill="#f0a030" stroke="none">
    <circle cx="462.5" cy="342.3" r="1.5"/><circle cx="462.5" cy="351.9" r="1.5"/><circle cx="462.5" cy="361.5" r="1.5"/><circle cx="462.5" cy="371.2" r="1.5"/><circle cx="462.5" cy="380.6" r="1.5"/><circle cx="462.5" cy="390.2" r="1.5"/>
    <circle cx="529.6" cy="533" r="1.5"/><circle cx="529.6" cy="542.7" r="1.5"/><circle cx="529.6" cy="552.5" r="1.5"/><circle cx="529.6" cy="562.3" r="1.5"/><circle cx="529.6" cy="571.9" r="1.5"/><circle cx="529.6" cy="581.5" r="1.5"/>
  </g>

  <!-- co2 inflow arrows -->
  <path d="M425.5,304 L468.7,304 C482,303 490,297 493.5,288 C495.5,282 496,276 496,268" stroke="#2b8cc4" stroke-width="2"/>
  <polygon points="495.4,258 492.4,269.5 498.6,269.5" fill="#2b8cc4" stroke="none"/>
  <path d="M565,400.3 L523,400.3 C510,399.5 500.5,393.5 497.5,384 C496,379 495.5,374 495.5,366" stroke="#2b8cc4" stroke-width="2"/>
  <polygon points="495.3,355.5 492.2,367 498.4,367" fill="#2b8cc4" stroke="none"/>
  <path d="M425.8,502.2 L468.5,502.2 C482,501.2 490,495 493.5,486 C495.5,480 495.8,474 495.8,467" stroke="#2b8cc4" stroke-width="2"/>
  <polygon points="495.8,456 492.7,467.5 498.9,467.5" fill="#2b8cc4" stroke="none"/>

  <!-- sun -->
  <circle cx="386.5" cy="181.2" r="13.9" stroke="#9fc83c" stroke-width="3.8"/>
  <g stroke="#9fc83c" stroke-width="4.2">
    <path d="M386.5,152.5 L386.5,158.5 M386.5,204 L386.5,210 M358,181.2 L364,181.2 M409,181.2 L415,181.2"/>
    <path d="M366.3,161 L370.6,165.3 M402.4,197.1 L406.7,201.4 M406.7,161 L402.4,165.3 M370.6,197.1 L366.3,201.4"/>
  </g>
</g>

<!-- clouds light blue -->
<use href="#cloud" x="379.5" y="285" fill="#1b8fcb"/>
<use href="#cloud" x="572.5" y="383" fill="#1b8fcb"/>
<use href="#cloud" x="379.5" y="483" fill="#1b8fcb"/>
<g fill="#fff" font-weight="bold" font-size="13.5">
  <text x="384.1" y="308.6" textLength="19.5" lengthAdjust="spacingAndGlyphs">co2</text>
  <text x="577.3" y="406.3" textLength="19.5" lengthAdjust="spacingAndGlyphs">co2</text>
  <text x="384.1" y="506.5" textLength="19.5" lengthAdjust="spacingAndGlyphs">co2</text>
</g>

<!-- labels -->
<g fill="#9fc545" font-weight="bold" font-size="13.4">
  <text x="347.3" y="233" textLength="61.3" lengthAdjust="spacingAndGlyphs">Algae and</text>
  <text x="347.3" y="249.3" textLength="50.2" lengthAdjust="spacingAndGlyphs">biomass</text>
  <text x="347.3" y="265.6" textLength="69" lengthAdjust="spacingAndGlyphs">production</text>
</g>
<g fill="#2a86ba" font-weight="bold" font-size="12.8">
  <text x="574.5" y="341" textLength="19.3" lengthAdjust="spacingAndGlyphs">CO</text>
  <text x="594.5" y="343.2" font-size="7.5" textLength="3.7" lengthAdjust="spacingAndGlyphs">2</text>
  <text x="602.5" y="341" textLength="46" lengthAdjust="spacingAndGlyphs">filtered</text>
  <text x="574.5" y="357.8" textLength="87.5" lengthAdjust="spacingAndGlyphs">through stack</text>
  <text x="574.5" y="374.4" textLength="37" lengthAdjust="spacingAndGlyphs">effect</text>
</g>

<!-- ============ UNDERGROUND ============ -->
<g id="under" fill="none" stroke-linecap="round" stroke-linejoin="round">
  <!-- lime neck left -->
  <path d="M459.6,719 L459.6,726 M483,719 L483,726 M459.6,724.7 L483,724.7" stroke="#9fc93c" stroke-width="2"/>
  <path d="M506,719 L506,726 M530.4,719 L530.4,726 M506,724.7 L530.4,724.7" stroke="#9fc93c" stroke-width="2"/>
  <!-- boxes -->
  <rect x="456" y="726" width="29.5" height="51.5" rx="5" fill="#9fc93c" stroke="none"/>
  <rect x="503.4" y="726" width="29.8" height="51.5" rx="5" fill="#9fc93c" stroke="none"/>
  <!-- central navy rect -->
  <path d="M487,719 L487,746.5 L502.7,746.5 L502.7,719" stroke="#1d5a87" stroke-width="1.8"/>
  <rect x="493.2" y="700" width="3.6" height="100" fill="#1d5a87" stroke="none"/>
  <!-- icons -->
  <g stroke="#1a1a1a" stroke-width="2">
    <path d="M459.5,754 A11.3,11.3 0 0 1 481.5,754"/>
    <path d="M481.8,759 A11.3,11.3 0 0 1 459.8,759"/>
    <path d="M507,754 A11.3,11.3 0 0 1 529,754"/>
    <path d="M529.3,759 A11.3,11.3 0 0 1 507.3,759"/>
  </g>
  <g fill="#1a1a1a" stroke="none">
    <polygon points="478.5,753 484.5,753 481.5,757"/>
    <polygon points="462.5,760 456.5,760 459.5,756"/>
    <polygon points="526,753 532,753 529,757"/>
    <polygon points="510,760 504,760 507,756"/>
    <polygon points="471.8,749 468.2,757.5 471.2,757.5 469.6,764.5 474,755.5 471,755.5 473.4,749"/>
    <polygon points="519.3,749 515.7,757.5 518.7,757.5 517.1,764.5 521.5,755.5 518.5,755.5 520.9,749"/>
  </g>
  <!-- lime flows -->
  <path d="M456,775 L353,775 C338,775 340,748 326,748 L198,748" stroke="#a4cc4a" stroke-width="2.3"/>
  <polygon points="194,748 204,744.5 204,751.5" fill="#a4cc4a" stroke="none"/>
  <path d="M355,775 L262,775 C246,775 252,802.5 236,802.5 L103,802.5" stroke="#a4cc4a" stroke-width="2.3"/>
  <polygon points="99,802.5 109,799 109,806" fill="#a4cc4a" stroke="none"/>
  <path d="M533,736.5 L592,736.5 C606,736.5 604,763.7 620,763.7 L764,763.7" stroke="#a4cc4a" stroke-width="2.3"/>
  <polygon points="768.8,763.7 758.8,760.2 758.8,767.2" fill="#a4cc4a" stroke="none"/>
  <!-- navy flows -->
  <path d="M470,825 L352,826 C336,826 342,852.7 322,852.7 L180,852.7" stroke="#1d5a87" stroke-width="2.3"/>
  <polygon points="174.5,852.7 185.5,849 185.5,856.4" fill="#1d5a87" stroke="none"/>
  <path d="M518,807 L735,807 C752,807 748,780 766,780 L895,780" stroke="#1d5a87" stroke-width="2.3"/>
  <polygon points="901,780 890,776.3 890,783.7" fill="#1d5a87" stroke="none"/>
  <path d="M640,807 C657,807 652,833.4 672,833.4 L803,833.4" stroke="#1d5a87" stroke-width="2.3"/>
  <polygon points="808.7,833.4 797.7,829.7 797.7,837.1" fill="#1d5a87" stroke="none"/>
</g>
<!-- big cloud -->
<use href="#cloud" transform="translate(469.8,788) scale(1.33)" fill="#1d5a87"/>
<text x="475.8" y="818.5" fill="#fff" font-weight="bold" font-size="16" textLength="26" lengthAdjust="spacingAndGlyphs">co2</text>

<!-- bottom labels -->
<g font-weight="bold" font-size="13.5">
  <text x="131.6" y="796.3" fill="#a4cc4a" font-size="12.8" textLength="83.4" lengthAdjust="spacingAndGlyphs">algae protein</text>
  <text x="624.9" y="757.5" fill="#a4cc4a" font-size="13.2" textLength="44.2" lengthAdjust="spacingAndGlyphs">biofuel</text>
  <text x="208.7" y="846" fill="#1d5a87" font-size="12.8" textLength="18.8" lengthAdjust="spacingAndGlyphs">CO</text>
  <text x="229.5" y="851" fill="#1d5a87" font-size="7.5" textLength="3.8" lengthAdjust="spacingAndGlyphs">2</text>
  <text x="237.5" y="846" fill="#1d5a87" font-size="12.8" textLength="76.2" lengthAdjust="spacingAndGlyphs">for industry</text>
</g>
</svg>
</body></html>
